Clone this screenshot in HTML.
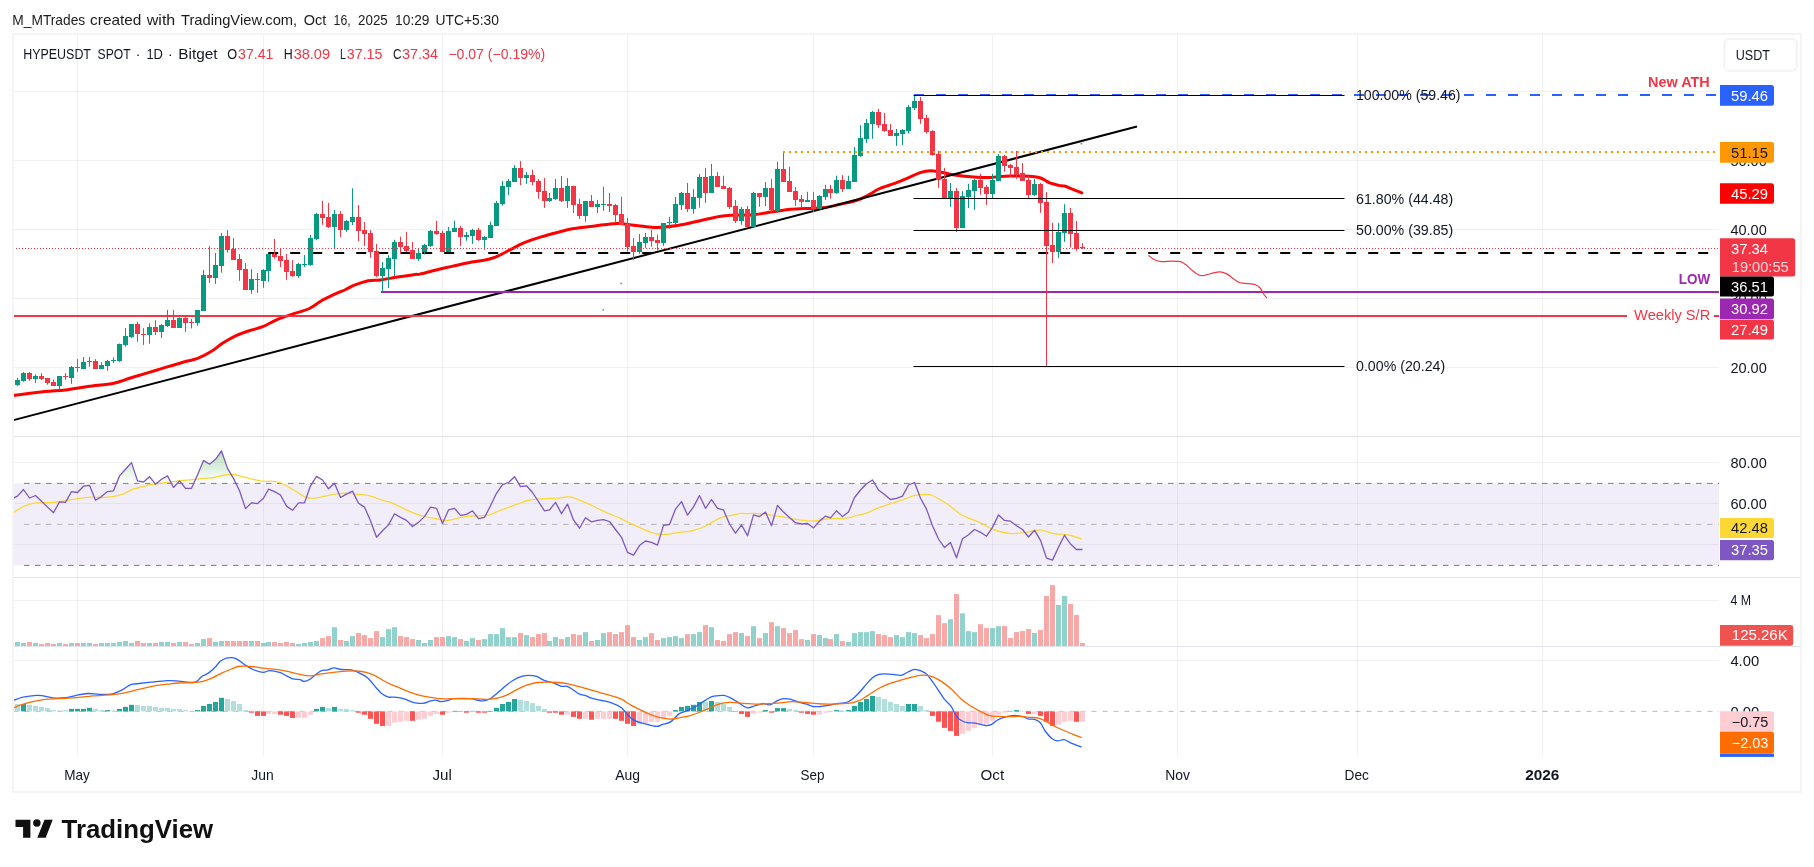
<!DOCTYPE html>
<html><head><meta charset="utf-8"><title>HYPEUSDT chart</title>
<style>html,body{margin:0;padding:0;background:#fff;}body{width:1814px;height:867px;overflow:hidden;position:relative;font-family:"Liberation Sans", sans-serif;}</style>
</head><body>
<svg width="1814" height="867" viewBox="0 0 1814 867" style="position:absolute;left:0;top:0;font-family:'Liberation Sans',sans-serif">
<defs>
<linearGradient id="gfill" x1="0" y1="421" x2="0" y2="483.4" gradientUnits="userSpaceOnUse"><stop offset="0" stop-color="#4caf50" stop-opacity="0.75"/><stop offset="1" stop-color="#4caf50" stop-opacity="0"/></linearGradient>
<clipPath id="cp_price"><rect x="13.5" y="34" width="1705.5" height="402"/></clipPath>
<clipPath id="cp_rsi70"><rect x="13.5" y="437" width="1705.5" height="46.39999999999998"/></clipPath>
<clipPath id="cp_all"><rect x="13.5" y="34" width="1705.5" height="723"/></clipPath>
</defs>
<rect width="1814" height="867" fill="#fff"/>
<g style="filter:opacity(1)">
<line x1="77.5" y1="34" x2="77.5" y2="756.5" stroke="#2a2e39" stroke-opacity="0.065" stroke-width="1"/>
<line x1="263.5" y1="34" x2="263.5" y2="756.5" stroke="#2a2e39" stroke-opacity="0.065" stroke-width="1"/>
<line x1="442.5" y1="34" x2="442.5" y2="756.5" stroke="#2a2e39" stroke-opacity="0.065" stroke-width="1"/>
<line x1="627.5" y1="34" x2="627.5" y2="756.5" stroke="#2a2e39" stroke-opacity="0.065" stroke-width="1"/>
<line x1="813.5" y1="34" x2="813.5" y2="756.5" stroke="#2a2e39" stroke-opacity="0.065" stroke-width="1"/>
<line x1="992.5" y1="34" x2="992.5" y2="756.5" stroke="#2a2e39" stroke-opacity="0.065" stroke-width="1"/>
<line x1="1177.5" y1="34" x2="1177.5" y2="756.5" stroke="#2a2e39" stroke-opacity="0.065" stroke-width="1"/>
<line x1="1357.5" y1="34" x2="1357.5" y2="756.5" stroke="#2a2e39" stroke-opacity="0.065" stroke-width="1"/>
<line x1="1542.5" y1="34" x2="1542.5" y2="756.5" stroke="#2a2e39" stroke-opacity="0.065" stroke-width="1"/>
<line x1="13.5" y1="91.5" x2="1719" y2="91.5" stroke="#2a2e39" stroke-opacity="0.065" stroke-width="1"/>
<line x1="13.5" y1="160.5" x2="1719" y2="160.5" stroke="#2a2e39" stroke-opacity="0.065" stroke-width="1"/>
<line x1="13.5" y1="229.5" x2="1719" y2="229.5" stroke="#2a2e39" stroke-opacity="0.065" stroke-width="1"/>
<line x1="13.5" y1="298.5" x2="1719" y2="298.5" stroke="#2a2e39" stroke-opacity="0.065" stroke-width="1"/>
<line x1="13.5" y1="367.5" x2="1719" y2="367.5" stroke="#2a2e39" stroke-opacity="0.065" stroke-width="1"/>
<line x1="13.5" y1="462.5" x2="1719" y2="462.5" stroke="#2a2e39" stroke-opacity="0.065" stroke-width="1"/>
<line x1="13.5" y1="503.5" x2="1719" y2="503.5" stroke="#2a2e39" stroke-opacity="0.065" stroke-width="1"/>
<line x1="13.5" y1="544.5" x2="1719" y2="544.5" stroke="#2a2e39" stroke-opacity="0.065" stroke-width="1"/>
<line x1="13.5" y1="600.5" x2="1719" y2="600.5" stroke="#2a2e39" stroke-opacity="0.065" stroke-width="1"/>
<line x1="13.5" y1="660.5" x2="1719" y2="660.5" stroke="#2a2e39" stroke-opacity="0.065" stroke-width="1"/>
<rect x="13.5" y="483.4" width="1705.5" height="82.0" fill="#7e57c2" fill-opacity="0.1"/>
<line x1="24" y1="483.4" x2="1719" y2="483.4" stroke="#787b86" stroke-width="1" stroke-dasharray="5.5,5.5"/>
<line x1="24" y1="565.4" x2="1719" y2="565.4" stroke="#787b86" stroke-width="1" stroke-dasharray="5.5,5.5"/>
<line x1="24" y1="524.4" x2="1719" y2="524.4" stroke="#787b86" stroke-opacity="0.5" stroke-width="1" stroke-dasharray="5.5,5.5"/>
<path d="M11.5,499.1 L17.5,496.1 L23.5,489.5 L29.5,498.0 L35.5,495.5 L41.5,501.3 L47.5,507.1 L53.5,512.7 L59.5,501.9 L65.5,502.4 L71.5,491.6 L77.5,492.5 L83.5,486.2 L89.5,485.3 L95.5,500.3 L101.5,496.6 L107.5,491.6 L113.5,490.8 L119.5,475.9 L125.5,469.2 L131.5,462.6 L137.5,480.9 L143.5,482.0 L149.5,476.7 L155.5,484.2 L161.5,479.2 L167.5,475.9 L173.5,487.5 L179.5,480.9 L185.5,488.3 L191.5,488.3 L197.5,475.0 L203.5,460.4 L209.5,464.2 L215.5,459.3 L221.5,451.0 L227.5,468.4 L233.5,478.4 L239.5,490.8 L245.5,508.6 L251.5,502.8 L257.5,503.6 L263.5,498.3 L268.5,489.2 L274.5,491.6 L280.5,495.0 L286.5,506.1 L292.5,510.3 L298.5,502.9 L304.5,502.9 L310.5,485.8 L316.5,476.4 L322.5,480.0 L328.5,488.8 L334.5,483.3 L340.5,497.5 L346.5,494.1 L352.5,491.1 L358.5,503.3 L364.5,507.1 L370.5,520.7 L376.5,537.3 L382.5,530.7 L388.5,524.9 L394.5,513.7 L400.5,517.4 L406.5,520.4 L412.5,526.5 L418.5,522.4 L424.5,516.6 L430.5,507.1 L436.5,508.3 L442.5,523.5 L448.5,509.9 L454.5,508.3 L460.5,515.4 L466.5,514.4 L472.5,510.8 L478.5,518.6 L484.5,517.4 L490.5,505.8 L496.5,493.3 L502.5,484.7 L508.5,482.5 L514.5,476.7 L520.5,486.7 L526.5,485.8 L532.5,492.5 L538.5,501.6 L544.5,510.8 L549.5,509.9 L555.5,502.4 L561.5,513.6 L567.5,504.1 L573.5,519.9 L579.5,528.2 L585.5,517.7 L591.5,521.9 L597.5,520.4 L603.5,519.6 L609.5,521.5 L615.5,529.5 L621.5,537.3 L627.5,552.3 L633.5,555.1 L639.5,545.6 L645.5,541.0 L651.5,542.3 L657.5,545.1 L663.5,525.4 L669.5,524.5 L675.5,509.1 L681.5,501.6 L687.5,515.2 L693.5,506.9 L699.5,495.5 L705.5,508.3 L711.5,499.5 L717.5,508.3 L723.5,509.9 L729.5,524.0 L735.5,533.2 L741.5,524.9 L747.5,535.7 L753.5,514.9 L759.5,516.6 L765.5,512.1 L771.5,525.7 L777.5,505.4 L783.5,512.1 L789.5,517.4 L795.5,522.7 L801.5,524.0 L807.5,523.5 L813.5,527.9 L819.5,521.2 L825.5,516.1 L830.5,517.9 L836.5,510.8 L842.5,516.6 L848.5,512.1 L854.5,497.5 L860.5,490.0 L866.5,483.7 L872.5,480.0 L878.5,490.0 L884.5,494.5 L890.5,499.5 L896.5,498.3 L902.5,496.1 L908.5,485.0 L914.5,482.5 L920.5,498.3 L926.5,509.1 L932.5,525.7 L938.5,539.0 L944.5,547.6 L950.5,542.6 L956.5,557.8 L962.5,538.7 L968.5,534.8 L974.5,529.5 L980.5,532.3 L986.5,536.2 L992.5,527.4 L998.5,514.9 L1004.5,520.4 L1010.5,521.2 L1016.5,525.7 L1022.5,529.5 L1028.5,537.0 L1034.5,530.2 L1040.5,540.3 L1046.5,558.1 L1052.5,560.1 L1058.5,547.3 L1064.5,535.2 L1070.5,544.0 L1076.5,549.5 L1082.5,549.5 L1082.5,483.4 L11.5,483.4 Z" fill="url(#gfill)" clip-path="url(#cp_rsi70)"/>
<g clip-path="url(#cp_all)">
<path d="M13.3,512.7 C15.0,511.7 19.7,508.2 23.3,506.6 C26.9,505.0 29.9,503.6 34.9,502.9 C39.9,502.2 48.2,502.8 53.2,502.4 C58.2,502.0 60.9,501.4 64.8,500.8 C68.7,500.2 72.2,499.4 76.4,498.8 C80.6,498.2 85.3,497.3 89.7,497.1 C94.1,496.9 99.1,497.6 103.0,497.5 C106.9,497.4 109.7,497.2 113.0,496.6 C116.3,496.0 119.7,495.3 123.0,494.1 C126.3,492.9 129.6,490.4 132.9,489.2 C136.2,488.0 139.9,487.5 142.9,486.7 C145.9,485.9 147.9,485.1 151.2,484.5 C154.5,483.9 159.2,483.5 162.8,483.0 C166.4,482.5 169.5,482.1 172.8,481.7 C176.1,481.3 179.5,480.8 182.8,480.5 C186.1,480.2 189.4,480.1 192.7,479.7 C196.0,479.3 199.1,478.8 202.7,478.4 C206.3,478.0 210.7,478.1 214.3,477.5 C217.9,476.9 221.0,475.5 224.3,475.0 C227.6,474.5 231.2,474.2 234.3,474.5 C237.4,474.8 239.8,476.0 242.6,476.7 C245.4,477.4 247.6,478.1 250.9,478.9 C254.2,479.6 258.9,480.8 262.5,481.2 C266.1,481.6 269.4,481.0 272.5,481.3 C275.6,481.6 277.5,481.7 280.8,483.0 C284.1,484.3 289.4,487.5 292.4,489.2 C295.4,490.9 296.6,491.9 299.0,493.3 C301.4,494.7 303.7,496.8 306.6,497.5 C309.5,498.2 313.3,498.1 316.6,497.8 C319.9,497.5 323.3,496.5 326.6,495.8 C329.9,495.1 332.9,494.2 336.5,493.8 C340.1,493.4 344.9,493.2 348.2,493.3 C351.5,493.4 352.9,493.7 356.5,494.1 C360.1,494.5 365.4,494.7 369.8,495.8 C374.2,496.9 379.2,499.2 383.1,500.5 C387.0,501.8 389.1,501.7 393.0,503.3 C396.9,504.9 402.4,508.1 406.3,509.9 C410.2,511.7 413.0,512.9 416.3,514.1 C419.6,515.3 422.9,516.1 426.2,516.9 C429.5,517.6 433.1,518.0 436.2,518.6 C439.2,519.2 441.7,520.2 444.5,520.4 C447.3,520.6 450.3,520.0 452.8,519.6 C455.3,519.2 456.7,518.3 459.5,517.7 C462.3,517.1 466.1,516.4 469.4,516.1 C472.7,515.8 476.3,515.8 479.4,515.7 C482.4,515.6 484.9,516.0 487.7,515.4 C490.5,514.8 492.9,513.3 496.0,512.1 C499.1,510.9 502.4,509.6 506.0,508.3 C509.6,507.0 514.0,505.4 517.6,504.1 C521.2,502.8 524.3,501.3 527.6,500.5 C530.9,499.7 533.9,499.4 537.5,499.1 C541.1,498.8 545.3,498.7 549.2,498.5 C553.1,498.3 557.6,498.1 560.8,497.8 C564.0,497.5 566.1,496.8 568.3,496.8 C570.5,496.8 571.8,497.1 574.1,497.8 C576.5,498.6 579.9,500.2 582.4,501.3 C584.9,502.4 585.5,502.5 589.0,504.1 C592.5,505.7 598.1,508.8 603.3,511.1 C608.4,513.5 615.5,516.2 619.9,518.2 C624.3,520.2 626.6,521.6 629.9,523.2 C633.2,524.8 636.5,526.3 639.8,527.7 C643.1,529.1 647.0,530.8 649.8,531.8 C652.6,532.8 653.3,533.6 656.4,534.0 C659.5,534.4 664.2,534.6 668.1,534.3 C672.0,534.0 675.8,532.8 679.7,532.3 C683.6,531.8 687.1,532.0 691.3,531.0 C695.4,530.0 700.5,528.4 704.6,526.5 C708.8,524.6 713.2,521.5 716.2,519.9 C719.2,518.3 720.4,517.9 722.9,517.1 C725.4,516.4 728.3,516.0 731.2,515.4 C734.1,514.8 737.8,513.7 740.3,513.4 C742.8,513.1 743.9,513.7 746.1,513.7 C748.3,513.7 750.6,513.3 753.6,513.4 C756.6,513.5 761.2,513.8 764.4,514.1 C767.6,514.4 769.4,514.9 772.7,515.4 C776.0,515.9 780.8,516.5 784.4,517.1 C788.0,517.7 791.0,518.6 794.3,519.1 C797.6,519.6 801.2,520.0 804.3,520.4 C807.3,520.8 809.8,521.3 812.6,521.2 C815.4,521.1 817.9,520.3 820.9,519.9 C823.9,519.5 826.5,518.9 830.9,518.6 C835.3,518.3 843.4,518.4 847.5,517.9 C851.6,517.4 853.9,516.2 855.8,515.7 C857.7,515.2 857.0,515.7 859.1,515.1 C861.2,514.5 865.1,513.6 868.3,512.4 C871.5,511.2 874.1,509.4 878.3,507.8 C882.4,506.2 888.5,504.5 893.2,502.9 C897.9,501.3 902.9,499.6 906.5,498.3 C910.1,497.0 911.5,496.0 914.8,495.3 C918.1,494.6 923.6,494.2 926.4,494.1 C929.2,494.1 929.2,494.1 931.4,495.0 C933.6,495.9 936.7,497.7 939.7,499.5 C942.8,501.3 946.4,503.4 949.7,505.8 C953.0,508.2 956.7,511.7 959.7,513.7 C962.8,515.7 964.7,516.5 968.0,517.9 C971.3,519.3 975.7,520.6 979.6,522.4 C983.5,524.2 987.9,527.2 991.2,528.7 C994.5,530.2 996.5,530.7 999.5,531.5 C1002.5,532.3 1006.5,533.2 1009.5,533.5 C1012.5,533.8 1015.0,533.4 1017.8,533.2 C1020.6,533.0 1023.3,532.7 1026.1,532.3 C1028.9,531.9 1032.1,531.1 1034.4,530.7 C1036.8,530.3 1038.0,529.7 1040.2,529.9 C1042.4,530.1 1045.1,531.1 1047.7,531.8 C1050.3,532.5 1053.2,533.6 1056.0,534.0 C1058.8,534.4 1061.5,534.0 1064.3,534.3 C1067.1,534.6 1069.7,535.2 1072.6,536.0 C1075.5,536.8 1080.3,538.5 1081.8,539.0" fill="none" stroke="#fdd835" stroke-width="1.3"/>
<path d="M11.5,499.1 L17.5,496.1 L23.5,489.5 L29.5,498.0 L35.5,495.5 L41.5,501.3 L47.5,507.1 L53.5,512.7 L59.5,501.9 L65.5,502.4 L71.5,491.6 L77.5,492.5 L83.5,486.2 L89.5,485.3 L95.5,500.3 L101.5,496.6 L107.5,491.6 L113.5,490.8 L119.5,475.9 L125.5,469.2 L131.5,462.6 L137.5,480.9 L143.5,482.0 L149.5,476.7 L155.5,484.2 L161.5,479.2 L167.5,475.9 L173.5,487.5 L179.5,480.9 L185.5,488.3 L191.5,488.3 L197.5,475.0 L203.5,460.4 L209.5,464.2 L215.5,459.3 L221.5,451.0 L227.5,468.4 L233.5,478.4 L239.5,490.8 L245.5,508.6 L251.5,502.8 L257.5,503.6 L263.5,498.3 L268.5,489.2 L274.5,491.6 L280.5,495.0 L286.5,506.1 L292.5,510.3 L298.5,502.9 L304.5,502.9 L310.5,485.8 L316.5,476.4 L322.5,480.0 L328.5,488.8 L334.5,483.3 L340.5,497.5 L346.5,494.1 L352.5,491.1 L358.5,503.3 L364.5,507.1 L370.5,520.7 L376.5,537.3 L382.5,530.7 L388.5,524.9 L394.5,513.7 L400.5,517.4 L406.5,520.4 L412.5,526.5 L418.5,522.4 L424.5,516.6 L430.5,507.1 L436.5,508.3 L442.5,523.5 L448.5,509.9 L454.5,508.3 L460.5,515.4 L466.5,514.4 L472.5,510.8 L478.5,518.6 L484.5,517.4 L490.5,505.8 L496.5,493.3 L502.5,484.7 L508.5,482.5 L514.5,476.7 L520.5,486.7 L526.5,485.8 L532.5,492.5 L538.5,501.6 L544.5,510.8 L549.5,509.9 L555.5,502.4 L561.5,513.6 L567.5,504.1 L573.5,519.9 L579.5,528.2 L585.5,517.7 L591.5,521.9 L597.5,520.4 L603.5,519.6 L609.5,521.5 L615.5,529.5 L621.5,537.3 L627.5,552.3 L633.5,555.1 L639.5,545.6 L645.5,541.0 L651.5,542.3 L657.5,545.1 L663.5,525.4 L669.5,524.5 L675.5,509.1 L681.5,501.6 L687.5,515.2 L693.5,506.9 L699.5,495.5 L705.5,508.3 L711.5,499.5 L717.5,508.3 L723.5,509.9 L729.5,524.0 L735.5,533.2 L741.5,524.9 L747.5,535.7 L753.5,514.9 L759.5,516.6 L765.5,512.1 L771.5,525.7 L777.5,505.4 L783.5,512.1 L789.5,517.4 L795.5,522.7 L801.5,524.0 L807.5,523.5 L813.5,527.9 L819.5,521.2 L825.5,516.1 L830.5,517.9 L836.5,510.8 L842.5,516.6 L848.5,512.1 L854.5,497.5 L860.5,490.0 L866.5,483.7 L872.5,480.0 L878.5,490.0 L884.5,494.5 L890.5,499.5 L896.5,498.3 L902.5,496.1 L908.5,485.0 L914.5,482.5 L920.5,498.3 L926.5,509.1 L932.5,525.7 L938.5,539.0 L944.5,547.6 L950.5,542.6 L956.5,557.8 L962.5,538.7 L968.5,534.8 L974.5,529.5 L980.5,532.3 L986.5,536.2 L992.5,527.4 L998.5,514.9 L1004.5,520.4 L1010.5,521.2 L1016.5,525.7 L1022.5,529.5 L1028.5,537.0 L1034.5,530.2 L1040.5,540.3 L1046.5,558.1 L1052.5,560.1 L1058.5,547.3 L1064.5,535.2 L1070.5,544.0 L1076.5,549.5 L1082.5,549.5" fill="none" stroke="#7e57c2" stroke-width="1.3" stroke-linejoin="round"/>
</g>
<g clip-path="url(#cp_all)">
<rect x="9" y="643.0" width="5" height="3.0" fill="#ef5350" fill-opacity="0.5"/>
<rect x="15" y="642.0" width="5" height="4.0" fill="#26a69a" fill-opacity="0.5"/>
<rect x="21" y="643.0" width="5" height="3.0" fill="#26a69a" fill-opacity="0.5"/>
<rect x="27" y="642.0" width="5" height="4.0" fill="#ef5350" fill-opacity="0.5"/>
<rect x="33" y="643.0" width="5" height="3.0" fill="#26a69a" fill-opacity="0.5"/>
<rect x="39" y="644.0" width="5" height="2.0" fill="#ef5350" fill-opacity="0.5"/>
<rect x="45" y="643.0" width="5" height="3.0" fill="#ef5350" fill-opacity="0.5"/>
<rect x="51" y="644.0" width="5" height="2.0" fill="#ef5350" fill-opacity="0.5"/>
<rect x="57" y="643.0" width="5" height="3.0" fill="#26a69a" fill-opacity="0.5"/>
<rect x="63" y="644.0" width="5" height="2.0" fill="#ef5350" fill-opacity="0.5"/>
<rect x="69" y="643.0" width="5" height="3.0" fill="#26a69a" fill-opacity="0.5"/>
<rect x="75" y="643.0" width="5" height="3.0" fill="#ef5350" fill-opacity="0.5"/>
<rect x="81" y="643.0" width="5" height="3.0" fill="#26a69a" fill-opacity="0.5"/>
<rect x="87" y="643.0" width="5" height="3.0" fill="#26a69a" fill-opacity="0.5"/>
<rect x="93" y="644.0" width="5" height="2.0" fill="#ef5350" fill-opacity="0.5"/>
<rect x="99" y="643.0" width="5" height="3.0" fill="#26a69a" fill-opacity="0.5"/>
<rect x="105" y="643.0" width="5" height="3.0" fill="#26a69a" fill-opacity="0.5"/>
<rect x="111" y="643.0" width="5" height="3.0" fill="#26a69a" fill-opacity="0.5"/>
<rect x="117" y="642.0" width="5" height="4.0" fill="#26a69a" fill-opacity="0.5"/>
<rect x="123" y="641.0" width="5" height="5.0" fill="#26a69a" fill-opacity="0.5"/>
<rect x="129" y="643.0" width="5" height="3.0" fill="#26a69a" fill-opacity="0.5"/>
<rect x="135" y="641.0" width="5" height="5.0" fill="#ef5350" fill-opacity="0.5"/>
<rect x="141" y="643.0" width="5" height="3.0" fill="#ef5350" fill-opacity="0.5"/>
<rect x="147" y="643.0" width="5" height="3.0" fill="#26a69a" fill-opacity="0.5"/>
<rect x="153" y="643.0" width="5" height="3.0" fill="#ef5350" fill-opacity="0.5"/>
<rect x="159" y="642.0" width="5" height="4.0" fill="#26a69a" fill-opacity="0.5"/>
<rect x="165" y="642.0" width="5" height="4.0" fill="#26a69a" fill-opacity="0.5"/>
<rect x="171" y="643.0" width="5" height="3.0" fill="#ef5350" fill-opacity="0.5"/>
<rect x="177" y="642.0" width="5" height="4.0" fill="#26a69a" fill-opacity="0.5"/>
<rect x="183" y="642.0" width="5" height="4.0" fill="#ef5350" fill-opacity="0.5"/>
<rect x="189" y="644.0" width="5" height="2.0" fill="#ef5350" fill-opacity="0.5"/>
<rect x="195" y="643.0" width="5" height="3.0" fill="#26a69a" fill-opacity="0.5"/>
<rect x="201" y="639.1" width="5" height="6.9" fill="#26a69a" fill-opacity="0.5"/>
<rect x="207" y="638.1" width="5" height="7.9" fill="#ef5350" fill-opacity="0.5"/>
<rect x="213" y="642.0" width="5" height="4.0" fill="#26a69a" fill-opacity="0.5"/>
<rect x="219" y="641.0" width="5" height="5.0" fill="#26a69a" fill-opacity="0.5"/>
<rect x="225" y="641.0" width="5" height="5.0" fill="#ef5350" fill-opacity="0.5"/>
<rect x="231" y="641.0" width="5" height="5.0" fill="#ef5350" fill-opacity="0.5"/>
<rect x="237" y="641.0" width="5" height="5.0" fill="#ef5350" fill-opacity="0.5"/>
<rect x="243" y="641.0" width="5" height="5.0" fill="#ef5350" fill-opacity="0.5"/>
<rect x="249" y="641.0" width="5" height="5.0" fill="#26a69a" fill-opacity="0.5"/>
<rect x="255" y="641.0" width="5" height="5.0" fill="#ef5350" fill-opacity="0.5"/>
<rect x="261" y="643.0" width="5" height="3.0" fill="#26a69a" fill-opacity="0.5"/>
<rect x="266" y="642.0" width="5" height="4.0" fill="#26a69a" fill-opacity="0.5"/>
<rect x="272" y="642.0" width="5" height="4.0" fill="#ef5350" fill-opacity="0.5"/>
<rect x="278" y="643.0" width="5" height="3.0" fill="#ef5350" fill-opacity="0.5"/>
<rect x="284" y="642.0" width="5" height="4.0" fill="#ef5350" fill-opacity="0.5"/>
<rect x="290" y="643.0" width="5" height="3.0" fill="#ef5350" fill-opacity="0.5"/>
<rect x="296" y="644.0" width="5" height="2.0" fill="#26a69a" fill-opacity="0.5"/>
<rect x="302" y="643.0" width="5" height="3.0" fill="#26a69a" fill-opacity="0.5"/>
<rect x="308" y="642.0" width="5" height="4.0" fill="#26a69a" fill-opacity="0.5"/>
<rect x="314" y="641.0" width="5" height="5.0" fill="#26a69a" fill-opacity="0.5"/>
<rect x="320" y="638.1" width="5" height="7.9" fill="#ef5350" fill-opacity="0.5"/>
<rect x="326" y="636.1" width="5" height="9.9" fill="#ef5350" fill-opacity="0.5"/>
<rect x="332" y="627.2" width="5" height="18.8" fill="#26a69a" fill-opacity="0.5"/>
<rect x="338" y="640.0" width="5" height="6.0" fill="#ef5350" fill-opacity="0.5"/>
<rect x="344" y="641.0" width="5" height="5.0" fill="#26a69a" fill-opacity="0.5"/>
<rect x="350" y="636.1" width="5" height="9.9" fill="#26a69a" fill-opacity="0.5"/>
<rect x="356" y="633.1" width="5" height="12.9" fill="#ef5350" fill-opacity="0.5"/>
<rect x="362" y="635.1" width="5" height="10.9" fill="#ef5350" fill-opacity="0.5"/>
<rect x="368" y="638.1" width="5" height="7.9" fill="#ef5350" fill-opacity="0.5"/>
<rect x="374" y="631.1" width="5" height="14.9" fill="#ef5350" fill-opacity="0.5"/>
<rect x="380" y="637.1" width="5" height="8.9" fill="#26a69a" fill-opacity="0.5"/>
<rect x="386" y="629.1" width="5" height="16.9" fill="#26a69a" fill-opacity="0.5"/>
<rect x="392" y="627.2" width="5" height="18.8" fill="#26a69a" fill-opacity="0.5"/>
<rect x="398" y="636.1" width="5" height="9.9" fill="#ef5350" fill-opacity="0.5"/>
<rect x="404" y="637.1" width="5" height="8.9" fill="#ef5350" fill-opacity="0.5"/>
<rect x="410" y="639.1" width="5" height="6.9" fill="#ef5350" fill-opacity="0.5"/>
<rect x="416" y="640.0" width="5" height="6.0" fill="#26a69a" fill-opacity="0.5"/>
<rect x="422" y="643.0" width="5" height="3.0" fill="#26a69a" fill-opacity="0.5"/>
<rect x="428" y="640.0" width="5" height="6.0" fill="#26a69a" fill-opacity="0.5"/>
<rect x="434" y="637.1" width="5" height="8.9" fill="#ef5350" fill-opacity="0.5"/>
<rect x="440" y="637.1" width="5" height="8.9" fill="#ef5350" fill-opacity="0.5"/>
<rect x="446" y="636.1" width="5" height="9.9" fill="#26a69a" fill-opacity="0.5"/>
<rect x="452" y="637.1" width="5" height="8.9" fill="#26a69a" fill-opacity="0.5"/>
<rect x="458" y="639.1" width="5" height="6.9" fill="#ef5350" fill-opacity="0.5"/>
<rect x="464" y="641.0" width="5" height="5.0" fill="#26a69a" fill-opacity="0.5"/>
<rect x="470" y="638.1" width="5" height="7.9" fill="#26a69a" fill-opacity="0.5"/>
<rect x="476" y="640.0" width="5" height="6.0" fill="#ef5350" fill-opacity="0.5"/>
<rect x="482" y="639.1" width="5" height="6.9" fill="#26a69a" fill-opacity="0.5"/>
<rect x="488" y="634.1" width="5" height="11.9" fill="#26a69a" fill-opacity="0.5"/>
<rect x="494" y="634.1" width="5" height="11.9" fill="#26a69a" fill-opacity="0.5"/>
<rect x="500" y="628.1" width="5" height="17.9" fill="#26a69a" fill-opacity="0.5"/>
<rect x="506" y="637.1" width="5" height="8.9" fill="#26a69a" fill-opacity="0.5"/>
<rect x="512" y="637.1" width="5" height="8.9" fill="#26a69a" fill-opacity="0.5"/>
<rect x="518" y="633.1" width="5" height="12.9" fill="#ef5350" fill-opacity="0.5"/>
<rect x="524" y="635.1" width="5" height="10.9" fill="#26a69a" fill-opacity="0.5"/>
<rect x="530" y="637.1" width="5" height="8.9" fill="#ef5350" fill-opacity="0.5"/>
<rect x="536" y="634.1" width="5" height="11.9" fill="#ef5350" fill-opacity="0.5"/>
<rect x="542" y="633.1" width="5" height="12.9" fill="#ef5350" fill-opacity="0.5"/>
<rect x="547" y="641.0" width="5" height="5.0" fill="#26a69a" fill-opacity="0.5"/>
<rect x="553" y="637.1" width="5" height="8.9" fill="#26a69a" fill-opacity="0.5"/>
<rect x="559" y="639.1" width="5" height="6.9" fill="#ef5350" fill-opacity="0.5"/>
<rect x="565" y="637.1" width="5" height="8.9" fill="#26a69a" fill-opacity="0.5"/>
<rect x="571" y="634.1" width="5" height="11.9" fill="#ef5350" fill-opacity="0.5"/>
<rect x="577" y="635.1" width="5" height="10.9" fill="#ef5350" fill-opacity="0.5"/>
<rect x="583" y="632.1" width="5" height="13.9" fill="#26a69a" fill-opacity="0.5"/>
<rect x="589" y="641.0" width="5" height="5.0" fill="#ef5350" fill-opacity="0.5"/>
<rect x="595" y="640.0" width="5" height="6.0" fill="#26a69a" fill-opacity="0.5"/>
<rect x="601" y="633.1" width="5" height="12.9" fill="#26a69a" fill-opacity="0.5"/>
<rect x="607" y="632.1" width="5" height="13.9" fill="#ef5350" fill-opacity="0.5"/>
<rect x="613" y="634.1" width="5" height="11.9" fill="#ef5350" fill-opacity="0.5"/>
<rect x="619" y="632.1" width="5" height="13.9" fill="#ef5350" fill-opacity="0.5"/>
<rect x="625" y="625.2" width="5" height="20.8" fill="#ef5350" fill-opacity="0.5"/>
<rect x="631" y="637.1" width="5" height="8.9" fill="#ef5350" fill-opacity="0.5"/>
<rect x="637" y="640.0" width="5" height="6.0" fill="#26a69a" fill-opacity="0.5"/>
<rect x="643" y="637.1" width="5" height="8.9" fill="#26a69a" fill-opacity="0.5"/>
<rect x="649" y="633.1" width="5" height="12.9" fill="#ef5350" fill-opacity="0.5"/>
<rect x="655" y="640.0" width="5" height="6.0" fill="#ef5350" fill-opacity="0.5"/>
<rect x="661" y="638.1" width="5" height="7.9" fill="#26a69a" fill-opacity="0.5"/>
<rect x="667" y="637.1" width="5" height="8.9" fill="#26a69a" fill-opacity="0.5"/>
<rect x="673" y="636.1" width="5" height="9.9" fill="#26a69a" fill-opacity="0.5"/>
<rect x="679" y="638.1" width="5" height="7.9" fill="#26a69a" fill-opacity="0.5"/>
<rect x="685" y="634.1" width="5" height="11.9" fill="#ef5350" fill-opacity="0.5"/>
<rect x="691" y="634.1" width="5" height="11.9" fill="#26a69a" fill-opacity="0.5"/>
<rect x="697" y="632.1" width="5" height="13.9" fill="#26a69a" fill-opacity="0.5"/>
<rect x="703" y="625.2" width="5" height="20.8" fill="#ef5350" fill-opacity="0.5"/>
<rect x="709" y="627.2" width="5" height="18.8" fill="#26a69a" fill-opacity="0.5"/>
<rect x="715" y="640.0" width="5" height="6.0" fill="#ef5350" fill-opacity="0.5"/>
<rect x="721" y="641.0" width="5" height="5.0" fill="#ef5350" fill-opacity="0.5"/>
<rect x="727" y="634.1" width="5" height="11.9" fill="#ef5350" fill-opacity="0.5"/>
<rect x="733" y="632.1" width="5" height="13.9" fill="#ef5350" fill-opacity="0.5"/>
<rect x="739" y="633.1" width="5" height="12.9" fill="#26a69a" fill-opacity="0.5"/>
<rect x="745" y="636.1" width="5" height="9.9" fill="#ef5350" fill-opacity="0.5"/>
<rect x="751" y="626.2" width="5" height="19.8" fill="#26a69a" fill-opacity="0.5"/>
<rect x="757" y="638.1" width="5" height="7.9" fill="#ef5350" fill-opacity="0.5"/>
<rect x="763" y="633.1" width="5" height="12.9" fill="#26a69a" fill-opacity="0.5"/>
<rect x="769" y="622.2" width="5" height="23.8" fill="#ef5350" fill-opacity="0.5"/>
<rect x="775" y="626.2" width="5" height="19.8" fill="#26a69a" fill-opacity="0.5"/>
<rect x="781" y="628.1" width="5" height="17.9" fill="#ef5350" fill-opacity="0.5"/>
<rect x="787" y="633.1" width="5" height="12.9" fill="#ef5350" fill-opacity="0.5"/>
<rect x="793" y="630.1" width="5" height="15.9" fill="#ef5350" fill-opacity="0.5"/>
<rect x="799" y="639.1" width="5" height="6.9" fill="#ef5350" fill-opacity="0.5"/>
<rect x="805" y="640.0" width="5" height="6.0" fill="#26a69a" fill-opacity="0.5"/>
<rect x="811" y="634.1" width="5" height="11.9" fill="#ef5350" fill-opacity="0.5"/>
<rect x="817" y="635.1" width="5" height="10.9" fill="#26a69a" fill-opacity="0.5"/>
<rect x="823" y="638.1" width="5" height="7.9" fill="#26a69a" fill-opacity="0.5"/>
<rect x="828" y="639.1" width="5" height="6.9" fill="#ef5350" fill-opacity="0.5"/>
<rect x="834" y="634.1" width="5" height="11.9" fill="#26a69a" fill-opacity="0.5"/>
<rect x="840" y="641.0" width="5" height="5.0" fill="#ef5350" fill-opacity="0.5"/>
<rect x="846" y="642.0" width="5" height="4.0" fill="#26a69a" fill-opacity="0.5"/>
<rect x="852" y="633.1" width="5" height="12.9" fill="#26a69a" fill-opacity="0.5"/>
<rect x="858" y="632.1" width="5" height="13.9" fill="#26a69a" fill-opacity="0.5"/>
<rect x="864" y="632.1" width="5" height="13.9" fill="#26a69a" fill-opacity="0.5"/>
<rect x="870" y="631.1" width="5" height="14.9" fill="#26a69a" fill-opacity="0.5"/>
<rect x="876" y="634.1" width="5" height="11.9" fill="#ef5350" fill-opacity="0.5"/>
<rect x="882" y="635.1" width="5" height="10.9" fill="#ef5350" fill-opacity="0.5"/>
<rect x="888" y="637.1" width="5" height="8.9" fill="#ef5350" fill-opacity="0.5"/>
<rect x="894" y="635.1" width="5" height="10.9" fill="#26a69a" fill-opacity="0.5"/>
<rect x="900" y="637.1" width="5" height="8.9" fill="#26a69a" fill-opacity="0.5"/>
<rect x="906" y="632.1" width="5" height="13.9" fill="#26a69a" fill-opacity="0.5"/>
<rect x="912" y="633.1" width="5" height="12.9" fill="#26a69a" fill-opacity="0.5"/>
<rect x="918" y="635.1" width="5" height="10.9" fill="#ef5350" fill-opacity="0.5"/>
<rect x="924" y="638.1" width="5" height="7.9" fill="#ef5350" fill-opacity="0.5"/>
<rect x="930" y="634.1" width="5" height="11.9" fill="#ef5350" fill-opacity="0.5"/>
<rect x="936" y="615.2" width="5" height="30.8" fill="#ef5350" fill-opacity="0.5"/>
<rect x="942" y="623.2" width="5" height="22.8" fill="#ef5350" fill-opacity="0.5"/>
<rect x="948" y="619.2" width="5" height="26.8" fill="#26a69a" fill-opacity="0.5"/>
<rect x="954" y="594.0" width="5" height="52.0" fill="#ef5350" fill-opacity="0.5"/>
<rect x="960" y="613.3" width="5" height="32.7" fill="#26a69a" fill-opacity="0.5"/>
<rect x="966" y="631.1" width="5" height="14.9" fill="#26a69a" fill-opacity="0.5"/>
<rect x="972" y="632.1" width="5" height="13.9" fill="#26a69a" fill-opacity="0.5"/>
<rect x="978" y="624.2" width="5" height="21.8" fill="#ef5350" fill-opacity="0.5"/>
<rect x="984" y="628.1" width="5" height="17.9" fill="#ef5350" fill-opacity="0.5"/>
<rect x="990" y="628.1" width="5" height="17.9" fill="#26a69a" fill-opacity="0.5"/>
<rect x="996" y="626.2" width="5" height="19.8" fill="#26a69a" fill-opacity="0.5"/>
<rect x="1002" y="626.0" width="5" height="20.0" fill="#ef5350" fill-opacity="0.5"/>
<rect x="1008" y="638.0" width="5" height="8.0" fill="#ef5350" fill-opacity="0.5"/>
<rect x="1014" y="632.0" width="5" height="14.0" fill="#ef5350" fill-opacity="0.5"/>
<rect x="1020" y="631.0" width="5" height="15.0" fill="#ef5350" fill-opacity="0.5"/>
<rect x="1026" y="629.0" width="5" height="17.0" fill="#ef5350" fill-opacity="0.5"/>
<rect x="1032" y="633.0" width="5" height="13.0" fill="#26a69a" fill-opacity="0.5"/>
<rect x="1038" y="630.0" width="5" height="16.0" fill="#ef5350" fill-opacity="0.5"/>
<rect x="1044" y="596.0" width="5" height="50.0" fill="#ef5350" fill-opacity="0.5"/>
<rect x="1050" y="585.0" width="5" height="61.0" fill="#ef5350" fill-opacity="0.5"/>
<rect x="1056" y="605.0" width="5" height="41.0" fill="#26a69a" fill-opacity="0.5"/>
<rect x="1062" y="596.0" width="5" height="50.0" fill="#26a69a" fill-opacity="0.5"/>
<rect x="1068" y="604.0" width="5" height="42.0" fill="#ef5350" fill-opacity="0.5"/>
<rect x="1074" y="615.0" width="5" height="31.0" fill="#ef5350" fill-opacity="0.5"/>
<rect x="1080" y="643.0" width="5" height="3.0" fill="#ef5350" fill-opacity="0.5"/>
</g>
<line x1="13.5" y1="711.4" x2="1719" y2="711.4" stroke="#787b86" stroke-opacity="0.5" stroke-width="1" stroke-dasharray="5,6"/>
<g clip-path="url(#cp_all)">
<rect x="9" y="704.0" width="5" height="7.4" fill="#b2dfdb"/>
<rect x="15" y="704.0" width="5" height="7.4" fill="#b2dfdb"/>
<rect x="21" y="704.0" width="5" height="7.4" fill="#26a69a"/>
<rect x="27" y="704.8" width="5" height="6.6" fill="#b2dfdb"/>
<rect x="33" y="705.9" width="5" height="5.5" fill="#b2dfdb"/>
<rect x="39" y="706.9" width="5" height="4.5" fill="#b2dfdb"/>
<rect x="45" y="708.1" width="5" height="3.3" fill="#b2dfdb"/>
<rect x="51" y="710.1" width="5" height="1.3" fill="#b2dfdb"/>
<rect x="57" y="710.6" width="5" height="0.8" fill="#b2dfdb"/>
<rect x="63" y="710.1" width="5" height="1.3" fill="#b2dfdb"/>
<rect x="69" y="708.9" width="5" height="2.5" fill="#26a69a"/>
<rect x="75" y="708.9" width="5" height="2.5" fill="#26a69a"/>
<rect x="81" y="708.9" width="5" height="2.5" fill="#26a69a"/>
<rect x="87" y="707.8" width="5" height="3.6" fill="#26a69a"/>
<rect x="93" y="708.9" width="5" height="2.5" fill="#b2dfdb"/>
<rect x="99" y="710.1" width="5" height="1.3" fill="#b2dfdb"/>
<rect x="105" y="710.1" width="5" height="1.3" fill="#26a69a"/>
<rect x="111" y="710.6" width="5" height="0.8" fill="#b2dfdb"/>
<rect x="117" y="708.9" width="5" height="2.5" fill="#26a69a"/>
<rect x="123" y="706.9" width="5" height="4.5" fill="#26a69a"/>
<rect x="129" y="704.8" width="5" height="6.6" fill="#26a69a"/>
<rect x="135" y="704.8" width="5" height="6.6" fill="#b2dfdb"/>
<rect x="141" y="705.9" width="5" height="5.5" fill="#b2dfdb"/>
<rect x="147" y="705.9" width="5" height="5.5" fill="#b2dfdb"/>
<rect x="153" y="706.9" width="5" height="4.5" fill="#b2dfdb"/>
<rect x="159" y="707.8" width="5" height="3.6" fill="#b2dfdb"/>
<rect x="165" y="707.8" width="5" height="3.6" fill="#b2dfdb"/>
<rect x="171" y="708.9" width="5" height="2.5" fill="#b2dfdb"/>
<rect x="177" y="708.9" width="5" height="2.5" fill="#b2dfdb"/>
<rect x="183" y="710.1" width="5" height="1.3" fill="#b2dfdb"/>
<rect x="189" y="711.1" width="5" height="0.3" fill="#b2dfdb"/>
<rect x="195" y="710.1" width="5" height="1.3" fill="#26a69a"/>
<rect x="201" y="705.9" width="5" height="5.5" fill="#26a69a"/>
<rect x="207" y="704.0" width="5" height="7.4" fill="#26a69a"/>
<rect x="213" y="702.0" width="5" height="9.4" fill="#26a69a"/>
<rect x="219" y="697.8" width="5" height="13.6" fill="#26a69a"/>
<rect x="225" y="699.0" width="5" height="12.4" fill="#b2dfdb"/>
<rect x="231" y="701.0" width="5" height="10.4" fill="#b2dfdb"/>
<rect x="237" y="704.0" width="5" height="7.4" fill="#b2dfdb"/>
<rect x="243" y="710.1" width="5" height="1.3" fill="#b2dfdb"/>
<rect x="249" y="711.4" width="5" height="1.3" fill="#ff5252"/>
<rect x="255" y="711.4" width="5" height="4.5" fill="#ff5252"/>
<rect x="261" y="711.4" width="5" height="4.5" fill="#ff5252"/>
<rect x="266" y="711.4" width="5" height="2.5" fill="#ffcdd2"/>
<rect x="272" y="711.4" width="5" height="2.5" fill="#ffcdd2"/>
<rect x="278" y="711.4" width="5" height="3.3" fill="#ff5252"/>
<rect x="284" y="711.4" width="5" height="4.5" fill="#ff5252"/>
<rect x="290" y="711.4" width="5" height="6.6" fill="#ff5252"/>
<rect x="296" y="711.4" width="5" height="6.6" fill="#ffcdd2"/>
<rect x="302" y="711.4" width="5" height="6.3" fill="#ffcdd2"/>
<rect x="308" y="711.4" width="5" height="3.3" fill="#ffcdd2"/>
<rect x="314" y="708.9" width="5" height="2.5" fill="#26a69a"/>
<rect x="320" y="706.9" width="5" height="4.5" fill="#26a69a"/>
<rect x="326" y="708.1" width="5" height="3.3" fill="#b2dfdb"/>
<rect x="332" y="706.9" width="5" height="4.5" fill="#26a69a"/>
<rect x="338" y="708.9" width="5" height="2.5" fill="#b2dfdb"/>
<rect x="344" y="708.9" width="5" height="2.5" fill="#b2dfdb"/>
<rect x="350" y="710.1" width="5" height="1.3" fill="#b2dfdb"/>
<rect x="356" y="711.4" width="5" height="1.3" fill="#ff5252"/>
<rect x="362" y="711.4" width="5" height="3.3" fill="#ff5252"/>
<rect x="368" y="711.4" width="5" height="7.4" fill="#ff5252"/>
<rect x="374" y="711.4" width="5" height="12.4" fill="#ff5252"/>
<rect x="380" y="711.4" width="5" height="14.6" fill="#ff5252"/>
<rect x="386" y="711.4" width="5" height="14.6" fill="#ffcdd2"/>
<rect x="392" y="711.4" width="5" height="11.2" fill="#ffcdd2"/>
<rect x="398" y="711.4" width="5" height="10.4" fill="#ffcdd2"/>
<rect x="404" y="711.4" width="5" height="9.4" fill="#ffcdd2"/>
<rect x="410" y="711.4" width="5" height="9.4" fill="#ff5252"/>
<rect x="416" y="711.4" width="5" height="8.3" fill="#ffcdd2"/>
<rect x="422" y="711.4" width="5" height="7.4" fill="#ffcdd2"/>
<rect x="428" y="711.4" width="5" height="4.5" fill="#ffcdd2"/>
<rect x="434" y="711.4" width="5" height="2.5" fill="#ffcdd2"/>
<rect x="440" y="711.4" width="5" height="3.3" fill="#ff5252"/>
<rect x="446" y="711.4" width="5" height="1.3" fill="#ffcdd2"/>
<rect x="452" y="710.9" width="5" height="0.5" fill="#26a69a"/>
<rect x="458" y="711.4" width="5" height="0.5" fill="#ff5252"/>
<rect x="464" y="711.4" width="5" height="1.3" fill="#ff5252"/>
<rect x="470" y="710.9" width="5" height="0.5" fill="#26a69a"/>
<rect x="476" y="711.4" width="5" height="1.3" fill="#ff5252"/>
<rect x="482" y="711.4" width="5" height="1.3" fill="#ff5252"/>
<rect x="488" y="710.9" width="5" height="0.5" fill="#26a69a"/>
<rect x="494" y="707.8" width="5" height="3.6" fill="#26a69a"/>
<rect x="500" y="704.0" width="5" height="7.4" fill="#26a69a"/>
<rect x="506" y="702.0" width="5" height="9.4" fill="#26a69a"/>
<rect x="512" y="699.0" width="5" height="12.4" fill="#26a69a"/>
<rect x="518" y="699.8" width="5" height="11.6" fill="#b2dfdb"/>
<rect x="524" y="701.0" width="5" height="10.4" fill="#b2dfdb"/>
<rect x="530" y="703.1" width="5" height="8.3" fill="#b2dfdb"/>
<rect x="536" y="705.9" width="5" height="5.5" fill="#b2dfdb"/>
<rect x="542" y="708.9" width="5" height="2.5" fill="#b2dfdb"/>
<rect x="547" y="711.4" width="5" height="1.3" fill="#ff5252"/>
<rect x="553" y="711.4" width="5" height="1.3" fill="#ff5252"/>
<rect x="559" y="711.4" width="5" height="3.3" fill="#ff5252"/>
<rect x="565" y="711.4" width="5" height="3.3" fill="#ffcdd2"/>
<rect x="571" y="711.4" width="5" height="5.5" fill="#ff5252"/>
<rect x="577" y="711.4" width="5" height="7.4" fill="#ff5252"/>
<rect x="583" y="711.4" width="5" height="7.4" fill="#ffcdd2"/>
<rect x="589" y="711.4" width="5" height="8.3" fill="#ff5252"/>
<rect x="595" y="711.4" width="5" height="7.4" fill="#ffcdd2"/>
<rect x="601" y="711.4" width="5" height="7.4" fill="#ffcdd2"/>
<rect x="607" y="711.4" width="5" height="7.4" fill="#ffcdd2"/>
<rect x="613" y="711.4" width="5" height="7.4" fill="#ff5252"/>
<rect x="619" y="711.4" width="5" height="9.4" fill="#ff5252"/>
<rect x="625" y="711.4" width="5" height="12.4" fill="#ff5252"/>
<rect x="631" y="711.4" width="5" height="14.6" fill="#ff5252"/>
<rect x="637" y="711.4" width="5" height="13.2" fill="#ffcdd2"/>
<rect x="643" y="711.4" width="5" height="11.6" fill="#ffcdd2"/>
<rect x="649" y="711.4" width="5" height="10.7" fill="#ffcdd2"/>
<rect x="655" y="711.4" width="5" height="10.4" fill="#ffcdd2"/>
<rect x="661" y="711.4" width="5" height="7.4" fill="#ffcdd2"/>
<rect x="667" y="711.4" width="5" height="4.5" fill="#ffcdd2"/>
<rect x="673" y="710.1" width="5" height="1.3" fill="#26a69a"/>
<rect x="679" y="706.9" width="5" height="4.5" fill="#26a69a"/>
<rect x="685" y="705.9" width="5" height="5.5" fill="#26a69a"/>
<rect x="691" y="704.8" width="5" height="6.6" fill="#26a69a"/>
<rect x="697" y="702.0" width="5" height="9.4" fill="#26a69a"/>
<rect x="703" y="702.0" width="5" height="9.4" fill="#b2dfdb"/>
<rect x="709" y="701.0" width="5" height="10.4" fill="#26a69a"/>
<rect x="715" y="702.0" width="5" height="9.4" fill="#b2dfdb"/>
<rect x="721" y="704.0" width="5" height="7.4" fill="#b2dfdb"/>
<rect x="727" y="706.9" width="5" height="4.5" fill="#b2dfdb"/>
<rect x="733" y="711.4" width="5" height="0.5" fill="#ff5252"/>
<rect x="739" y="711.4" width="5" height="2.5" fill="#ff5252"/>
<rect x="745" y="711.4" width="5" height="5.5" fill="#ff5252"/>
<rect x="751" y="711.4" width="5" height="2.5" fill="#ffcdd2"/>
<rect x="757" y="711.4" width="5" height="1.3" fill="#ffcdd2"/>
<rect x="763" y="710.1" width="5" height="1.3" fill="#26a69a"/>
<rect x="769" y="711.4" width="5" height="1.3" fill="#ff5252"/>
<rect x="775" y="708.1" width="5" height="3.3" fill="#26a69a"/>
<rect x="781" y="708.1" width="5" height="3.3" fill="#26a69a"/>
<rect x="787" y="708.9" width="5" height="2.5" fill="#b2dfdb"/>
<rect x="793" y="710.1" width="5" height="1.3" fill="#b2dfdb"/>
<rect x="799" y="711.4" width="5" height="1.3" fill="#ff5252"/>
<rect x="805" y="711.4" width="5" height="2.5" fill="#ff5252"/>
<rect x="811" y="711.4" width="5" height="3.3" fill="#ff5252"/>
<rect x="817" y="711.4" width="5" height="3.3" fill="#ffcdd2"/>
<rect x="823" y="711.4" width="5" height="1.3" fill="#ffcdd2"/>
<rect x="828" y="711.4" width="5" height="0.8" fill="#ffcdd2"/>
<rect x="834" y="710.1" width="5" height="1.3" fill="#26a69a"/>
<rect x="840" y="710.6" width="5" height="0.8" fill="#b2dfdb"/>
<rect x="846" y="710.1" width="5" height="1.3" fill="#26a69a"/>
<rect x="852" y="705.9" width="5" height="5.5" fill="#26a69a"/>
<rect x="858" y="702.0" width="5" height="9.4" fill="#26a69a"/>
<rect x="864" y="699.0" width="5" height="12.4" fill="#26a69a"/>
<rect x="870" y="696.0" width="5" height="15.4" fill="#26a69a"/>
<rect x="876" y="696.8" width="5" height="14.6" fill="#b2dfdb"/>
<rect x="882" y="699.0" width="5" height="12.4" fill="#b2dfdb"/>
<rect x="888" y="702.0" width="5" height="9.4" fill="#b2dfdb"/>
<rect x="894" y="704.0" width="5" height="7.4" fill="#b2dfdb"/>
<rect x="900" y="705.9" width="5" height="5.5" fill="#b2dfdb"/>
<rect x="906" y="704.0" width="5" height="7.4" fill="#26a69a"/>
<rect x="912" y="704.0" width="5" height="7.4" fill="#26a69a"/>
<rect x="918" y="705.9" width="5" height="5.5" fill="#b2dfdb"/>
<rect x="924" y="710.1" width="5" height="1.3" fill="#b2dfdb"/>
<rect x="930" y="711.4" width="5" height="4.5" fill="#ff5252"/>
<rect x="936" y="711.4" width="5" height="10.4" fill="#ff5252"/>
<rect x="942" y="711.4" width="5" height="16.5" fill="#ff5252"/>
<rect x="948" y="711.4" width="5" height="19.5" fill="#ff5252"/>
<rect x="954" y="711.4" width="5" height="24.5" fill="#ff5252"/>
<rect x="960" y="711.4" width="5" height="22.3" fill="#ffcdd2"/>
<rect x="966" y="711.4" width="5" height="19.5" fill="#ffcdd2"/>
<rect x="972" y="711.4" width="5" height="16.5" fill="#ffcdd2"/>
<rect x="978" y="711.4" width="5" height="13.2" fill="#ffcdd2"/>
<rect x="984" y="711.4" width="5" height="12.4" fill="#ffcdd2"/>
<rect x="990" y="711.4" width="5" height="9.4" fill="#ffcdd2"/>
<rect x="996" y="711.4" width="5" height="3.3" fill="#ffcdd2"/>
<rect x="1002" y="711.4" width="5" height="1.3" fill="#ffcdd2"/>
<rect x="1008" y="710.9" width="5" height="0.5" fill="#26a69a"/>
<rect x="1014" y="710.1" width="5" height="1.3" fill="#26a69a"/>
<rect x="1020" y="710.9" width="5" height="0.5" fill="#b2dfdb"/>
<rect x="1026" y="711.4" width="5" height="2.5" fill="#ff5252"/>
<rect x="1032" y="711.4" width="5" height="2.5" fill="#ffcdd2"/>
<rect x="1038" y="711.4" width="5" height="4.5" fill="#ff5252"/>
<rect x="1044" y="711.4" width="5" height="10.4" fill="#ff5252"/>
<rect x="1050" y="711.4" width="5" height="14.6" fill="#ff5252"/>
<rect x="1056" y="711.4" width="5" height="13.2" fill="#ffcdd2"/>
<rect x="1062" y="711.4" width="5" height="10.4" fill="#ffcdd2"/>
<rect x="1068" y="711.4" width="5" height="9.4" fill="#ffcdd2"/>
<rect x="1074" y="711.4" width="5" height="10.4" fill="#ff5252"/>
<rect x="1080" y="711.4" width="5" height="10.4" fill="#ffcdd2"/>
<path d="M13.3,700.4 C15.0,699.9 19.3,697.9 23.2,697.1 C27.1,696.3 33.2,695.6 36.5,695.4 C39.8,695.2 40.4,695.4 43.1,695.8 C45.9,696.2 49.1,697.6 53.0,697.9 C56.9,698.2 62.4,698.0 66.2,697.6 C70.0,697.2 72.5,696.1 76.1,695.4 C79.7,694.7 83.8,693.7 87.7,693.5 C91.6,693.3 95.2,694.2 99.3,694.3 C103.4,694.3 108.6,694.6 112.5,693.8 C116.4,693.0 119.5,691.2 122.5,689.7 C125.5,688.2 127.9,685.7 130.7,684.7 C133.4,683.7 135.7,683.9 139.0,683.5 C142.3,683.1 145.9,682.7 150.6,682.2 C155.3,681.7 162.4,680.8 167.1,680.6 C171.8,680.4 174.6,680.8 178.7,681.1 C182.8,681.4 188.9,682.5 191.9,682.5 C194.9,682.5 195.2,682.4 196.9,681.4 C198.6,680.4 199.9,677.8 201.8,676.4 C203.7,675.0 206.2,674.6 208.4,673.1 C210.6,671.6 213.2,669.2 215.1,667.3 C217.0,665.4 218.1,663.0 220.0,661.5 C221.9,660.0 224.5,658.8 226.6,658.2 C228.7,657.6 230.5,657.4 232.4,657.7 C234.3,658.0 236.1,658.7 238.2,659.9 C240.3,661.1 242.3,663.2 244.8,664.8 C247.3,666.4 250.1,668.2 253.1,669.5 C256.1,670.8 260.2,672.1 263.0,672.3 C265.8,672.5 266.8,670.6 269.6,670.6 C272.4,670.6 276.8,671.5 279.6,672.3 C282.4,673.1 284.0,674.5 286.2,675.6 C288.4,676.7 290.5,678.2 292.8,678.9 C295.1,679.6 298.1,679.3 300.0,679.7 C301.9,680.1 302.5,681.5 304.1,681.4 C305.8,681.3 307.8,680.5 309.9,679.2 C312.0,678.0 314.6,675.3 316.5,673.9 C318.4,672.5 319.6,671.3 321.5,670.6 C323.4,669.9 326.0,670.3 328.1,669.8 C330.2,669.3 331.7,667.8 333.9,667.8 C336.1,667.8 338.4,669.2 341.3,669.5 C344.2,669.8 348.5,669.3 351.3,669.8 C354.1,670.3 355.7,671.3 357.9,672.3 C360.1,673.3 362.6,674.4 364.5,675.6 C366.4,676.8 367.6,677.7 369.5,679.7 C371.4,681.7 373.9,685.3 376.1,687.7 C378.3,690.1 380.6,692.7 382.7,694.3 C384.8,695.9 386.6,696.6 388.5,697.1 C390.4,697.6 392.0,696.9 394.3,697.1 C396.6,697.3 399.5,697.6 402.5,698.4 C405.5,699.2 410.0,701.3 412.5,702.1 C415.0,702.9 415.5,703.0 417.4,703.2 C419.3,703.4 421.8,703.6 424.0,703.2 C426.2,702.8 428.7,701.4 430.6,700.9 C432.5,700.4 433.8,700.0 435.6,700.1 C437.4,700.2 439.2,701.7 441.4,701.7 C443.6,701.7 446.7,700.6 448.8,700.1 C450.9,699.6 450.2,698.9 453.8,698.7 C457.4,698.5 466.5,698.5 470.3,698.7 C474.1,698.9 474.7,699.7 476.9,700.1 C479.1,700.5 481.4,701.1 483.6,700.9 C485.8,700.7 488.0,699.9 490.2,698.7 C492.4,697.5 494.3,695.6 496.8,693.5 C499.3,691.4 502.4,688.5 505.1,686.3 C507.9,684.1 510.5,681.9 513.3,680.2 C516.0,678.6 519.0,677.2 521.6,676.4 C524.2,675.6 526.5,675.3 529.0,675.3 C531.5,675.3 533.9,675.5 536.5,676.4 C539.1,677.3 542.0,679.5 544.7,680.6 C547.5,681.7 550.2,681.8 553.0,682.7 C555.8,683.7 558.9,685.7 561.3,686.3 C563.6,686.9 565.2,685.7 567.1,686.3 C569.0,686.9 570.8,688.4 572.9,689.7 C575.0,691.0 577.3,693.1 579.5,694.1 C581.7,695.1 584.4,695.2 586.1,695.8 C587.9,696.4 587.7,696.9 590.0,697.6 C592.3,698.3 596.3,699.2 599.9,700.1 C603.5,701.0 607.9,701.6 611.5,702.9 C615.1,704.2 618.6,705.7 621.4,707.8 C624.1,709.9 625.8,713.1 628.0,715.3 C630.2,717.4 631.9,719.3 634.7,720.7 C637.5,722.1 641.0,722.7 644.6,723.6 C648.2,724.5 653.1,726.3 656.1,726.4 C659.1,726.5 660.3,725.2 662.8,724.4 C665.3,723.6 668.2,723.4 671.0,721.6 C673.8,719.8 676.8,715.4 679.3,713.6 C681.8,711.9 683.1,712.3 685.9,711.1 C688.6,709.9 693.0,708.0 695.8,706.5 C698.6,705.0 700.0,703.7 702.5,702.1 C705.0,700.5 708.2,698.2 710.7,697.1 C713.2,696.0 715.1,696.1 717.3,695.8 C719.5,695.5 721.8,695.0 724.0,695.4 C726.2,695.8 728.1,696.6 730.6,697.9 C733.1,699.1 736.0,701.2 738.8,702.9 C741.5,704.5 744.3,707.3 747.1,707.8 C749.9,708.3 752.6,706.4 755.4,705.7 C758.1,705.0 761.1,703.8 763.6,703.7 C766.1,703.6 768.1,705.4 770.3,704.9 C772.5,704.4 774.7,701.9 776.9,700.9 C779.1,699.9 781.3,699.0 783.5,698.7 C785.7,698.4 787.6,698.6 790.1,699.2 C792.6,699.8 795.6,701.3 798.4,702.1 C801.1,702.9 804.1,703.5 806.6,704.2 C809.1,704.9 811.1,706.1 813.3,706.5 C815.5,706.9 817.4,706.7 819.9,706.5 C822.4,706.3 825.1,705.9 828.1,705.4 C831.1,704.9 835.1,703.9 838.1,703.4 C841.1,702.9 843.8,703.3 846.3,702.5 C848.8,701.7 850.6,700.5 852.9,698.7 C855.2,696.9 857.7,694.3 860.0,691.8 C862.3,689.3 864.4,686.3 866.6,683.9 C868.8,681.5 871.1,678.8 873.2,677.2 C875.3,675.6 877.1,675.0 879.0,674.4 C880.9,673.8 882.4,673.9 884.8,673.9 C887.1,673.9 890.4,674.2 893.1,674.4 C895.9,674.6 898.8,675.7 901.3,675.3 C903.8,674.9 905.8,673.0 908.0,672.0 C910.2,671.0 912.4,669.5 914.6,669.3 C916.8,669.1 919.1,670.1 921.2,671.0 C923.3,671.9 925.1,672.5 927.0,674.4 C928.9,676.3 930.7,679.3 932.8,682.2 C934.9,685.1 937.5,689.0 939.4,691.8 C941.3,694.6 942.4,696.7 944.3,699.1 C946.2,701.5 949.1,703.5 951.0,706.2 C952.9,708.9 954.2,713.0 955.9,715.3 C957.5,717.6 959.0,719.0 960.9,720.2 C962.8,721.4 965.0,722.2 967.5,722.7 C970.0,723.2 972.8,722.7 975.8,723.2 C978.8,723.7 983.1,725.3 985.7,725.5 C988.3,725.7 989.6,725.3 991.5,724.4 C993.4,723.5 995.2,721.4 997.3,720.2 C999.4,719.0 1001.7,718.1 1003.9,717.4 C1006.1,716.7 1008.3,716.1 1010.5,715.8 C1012.7,715.5 1014.9,715.4 1017.1,715.6 C1019.3,715.8 1021.8,716.3 1023.7,716.9 C1025.6,717.5 1026.9,718.7 1028.7,719.1 C1030.5,719.5 1032.6,718.8 1034.5,719.4 C1036.4,720.0 1038.5,720.8 1040.3,722.7 C1042.1,724.6 1043.3,728.4 1045.2,731.0 C1047.1,733.6 1049.7,736.8 1051.8,738.4 C1053.9,740.0 1055.5,740.7 1057.6,740.9 C1059.7,741.1 1061.8,739.2 1064.2,739.6 C1066.6,740.0 1068.8,742.2 1071.7,743.4 C1074.6,744.6 1079.9,746.4 1081.6,747.0" fill="none" stroke="#2962ff" stroke-width="1.3"/>
<path d="M13.3,707.8 C15.5,707.0 21.5,704.6 26.5,703.2 C31.5,701.8 37.6,700.4 43.1,699.6 C48.6,698.9 54.1,699.0 59.6,698.7 C65.1,698.4 70.6,698.1 76.1,697.6 C81.6,697.1 86.6,696.4 92.7,695.9 C98.8,695.4 107.0,695.1 112.5,694.6 C118.0,694.1 121.4,693.5 125.8,692.6 C130.2,691.7 134.6,690.3 139.0,689.3 C143.4,688.2 147.5,687.1 152.2,686.3 C156.9,685.4 162.7,684.8 167.1,684.2 C171.5,683.7 174.6,683.2 178.7,683.0 C182.8,682.8 188.1,682.9 191.9,682.7 C195.8,682.5 198.5,682.5 201.8,681.7 C205.1,680.9 208.5,679.5 211.8,678.1 C215.1,676.7 218.4,674.6 221.7,673.1 C225.0,671.6 228.8,670.1 231.6,669.0 C234.3,667.9 235.7,667.0 238.2,666.5 C240.7,666.0 243.8,666.2 246.5,666.2 C249.2,666.2 251.9,666.5 254.7,666.8 C257.4,667.1 258.9,667.7 263.0,668.2 C267.1,668.7 274.9,669.1 279.6,669.8 C284.3,670.5 287.7,671.5 291.1,672.3 C294.5,673.1 296.9,673.8 300.0,674.4 C303.1,675.0 306.3,676.0 309.9,675.9 C313.5,675.8 317.6,674.5 321.5,673.9 C325.4,673.3 329.0,672.8 333.1,672.3 C337.2,671.8 342.5,671.3 346.3,671.1 C350.1,670.9 352.9,670.8 356.2,671.0 C359.5,671.2 363.1,671.6 366.1,672.3 C369.1,673.0 371.6,674.0 374.4,675.3 C377.2,676.6 379.9,678.7 382.7,680.2 C385.5,681.7 388.2,683.1 391.0,684.4 C393.8,685.6 396.2,686.5 399.2,687.7 C402.2,688.9 405.8,690.6 409.1,691.8 C412.4,693.0 415.8,694.2 419.1,695.1 C422.4,696.0 425.4,696.5 429.0,697.1 C432.6,697.7 436.8,698.4 440.6,698.7 C444.5,699.0 447.2,698.7 452.1,698.7 C457.1,698.7 465.3,698.6 470.3,698.7 C475.3,698.8 478.6,699.1 481.9,699.2 C485.2,699.3 487.4,699.4 490.2,699.2 C492.9,699.0 495.4,698.7 498.4,697.9 C501.4,697.1 505.1,695.8 508.4,694.3 C511.7,692.8 515.0,690.4 518.3,688.8 C521.6,687.2 524.9,685.8 528.2,684.7 C531.5,683.7 534.8,682.9 538.1,682.5 C541.4,682.1 544.8,682.2 548.1,682.2 C551.4,682.2 554.7,682.2 558.0,682.5 C561.3,682.8 564.0,683.1 567.9,683.9 C571.8,684.7 577.4,686.2 581.1,687.2 C584.8,688.2 586.9,688.8 590.0,689.7 C593.1,690.6 596.3,691.6 599.9,692.6 C603.5,693.6 607.9,694.7 611.5,695.8 C615.1,696.9 618.1,697.6 621.4,699.2 C624.7,700.8 628.0,703.5 631.3,705.4 C634.6,707.2 638.0,708.7 641.3,710.3 C644.6,711.9 647.9,713.5 651.2,714.8 C654.5,716.0 658.1,717.1 661.1,717.8 C664.1,718.5 666.4,719.1 669.4,719.1 C672.4,719.1 676.0,718.3 679.3,717.8 C682.6,717.2 685.9,716.7 689.2,715.8 C692.5,714.9 695.8,713.8 699.1,712.5 C702.4,711.2 705.8,709.7 709.1,708.3 C712.4,706.9 715.7,705.2 719.0,704.2 C722.3,703.2 725.6,702.6 728.9,702.4 C732.2,702.2 735.5,702.7 738.8,702.9 C742.1,703.1 745.5,703.5 748.8,703.7 C752.1,703.9 755.4,704.2 758.7,704.2 C762.0,704.2 765.0,703.9 768.6,703.7 C772.2,703.5 776.3,703.2 780.2,702.9 C784.1,702.6 787.7,701.8 791.8,701.7 C795.9,701.6 800.9,702.2 805.0,702.5 C809.1,702.8 812.8,703.4 816.6,703.7 C820.5,704.0 824.0,704.2 828.1,704.2 C832.2,704.2 837.5,703.9 841.4,703.7 C845.3,703.5 848.5,703.4 851.3,702.9 C854.0,702.4 856.4,701.3 857.9,700.9 C859.4,700.5 858.3,701.4 860.0,700.4 C861.7,699.4 865.3,697.0 868.3,695.1 C871.3,693.2 874.9,690.6 878.2,688.8 C881.5,687.0 884.8,685.5 888.1,684.2 C891.4,682.9 894.7,682.1 898.0,681.1 C901.3,680.1 904.7,679.0 908.0,678.1 C911.3,677.2 914.9,676.1 917.9,675.6 C920.9,675.1 923.6,675.1 926.1,675.3 C928.6,675.5 930.3,675.8 932.8,676.8 C935.3,677.8 938.0,679.1 941.0,681.1 C944.0,683.1 947.7,685.9 951.0,688.8 C954.3,691.7 957.9,696.0 960.9,698.7 C963.9,701.4 966.1,703.0 969.1,705.0 C972.1,707.0 975.8,709.1 979.1,710.8 C982.4,712.5 986.0,714.4 989.0,715.3 C992.0,716.2 994.0,716.2 997.3,716.4 C1000.6,716.6 1005.2,716.6 1008.8,716.6 C1012.4,716.6 1015.2,716.3 1018.8,716.4 C1022.4,716.5 1026.9,717.0 1030.3,717.3 C1033.7,717.6 1036.6,717.5 1039.4,718.3 C1042.2,719.1 1044.3,720.5 1046.9,721.9 C1049.5,723.3 1052.1,725.0 1055.1,726.5 C1058.1,728.0 1061.8,729.6 1065.1,731.0 C1068.4,732.4 1072.2,734.0 1075.0,735.1 C1077.8,736.2 1080.5,737.2 1081.6,737.6" fill="none" stroke="#ff6d00" stroke-width="1.3"/>
</g>
<g clip-path="url(#cp_price)">
<path d="M13.5,395.4 C18.7,394.8 36.0,392.5 44.6,391.6 C53.2,390.7 58.2,390.8 65.4,389.9 C72.6,389.0 79.8,387.5 87.9,386.4 C96.0,385.3 106.6,384.7 113.8,383.3 C121.0,381.9 123.9,380.0 131.1,377.8 C138.3,375.6 148.4,372.6 157.1,370.0 C165.8,367.4 176.4,364.1 183.0,362.2 C189.6,360.3 192.3,360.4 196.9,358.7 C201.5,357.0 206.4,354.4 210.7,351.8 C215.0,349.2 218.5,345.8 222.8,343.1 C227.1,340.4 232.1,337.5 236.6,335.4 C241.1,333.3 245.7,331.9 250.0,330.5 C254.3,329.1 258.3,328.5 262.7,326.7 C267.1,324.9 271.3,322.0 276.5,319.8 C281.7,317.6 288.3,315.6 293.8,313.7 C299.3,311.8 304.8,310.7 309.4,308.5 C314.0,306.3 317.5,303.0 321.5,300.7 C325.5,298.4 329.6,296.6 333.6,294.7 C337.6,292.8 342.2,291.1 345.7,289.5 C349.2,287.9 350.6,286.6 354.4,285.2 C358.1,283.8 363.9,281.7 368.2,280.8 C372.5,279.9 375.4,280.6 380.3,280.0 C385.2,279.4 391.8,277.9 397.6,277.0 C403.4,276.1 411.2,274.9 414.9,274.4 C418.6,273.9 416.3,274.9 420.0,274.1 C423.7,273.3 430.1,271.5 437.3,269.8 C444.5,268.1 455.5,265.3 463.3,263.7 C471.1,262.1 478.5,261.3 484.0,260.2 C489.5,259.1 491.8,258.5 496.1,256.8 C500.4,255.1 505.4,252.2 510.0,249.9 C514.6,247.6 518.6,245.1 523.8,242.9 C529.0,240.7 535.3,238.7 541.1,236.9 C546.9,235.1 553.2,233.5 558.4,232.2 C563.6,230.8 566.4,229.8 572.2,228.8 C578.0,227.8 586.6,227.0 593.0,226.2 C599.4,225.4 606.0,224.3 610.3,223.9 C614.6,223.5 616.1,223.5 619.0,223.6 C621.9,223.7 623.3,223.9 627.6,224.4 C631.9,224.9 641.2,226.1 644.9,226.5 C648.6,226.9 648.0,226.9 650.0,227.1 C652.0,227.3 654.0,227.6 656.9,227.6 C659.8,227.6 662.7,227.4 667.3,226.8 C671.9,226.2 678.8,225.3 684.6,224.2 C690.4,223.1 696.1,221.5 701.9,220.2 C707.7,218.9 714.3,217.2 719.2,216.4 C724.1,215.6 725.5,215.5 731.3,215.2 C737.1,214.9 747.2,215.2 753.8,214.7 C760.4,214.2 765.3,213.0 771.1,212.1 C776.9,211.2 782.6,210.1 788.4,209.5 C794.2,208.9 799.9,208.9 805.7,208.6 C811.5,208.3 817.2,208.5 823.0,207.8 C828.8,207.1 834.5,205.6 840.3,204.3 C846.1,203.0 852.6,201.7 857.6,200.0 C862.6,198.3 866.5,196.0 870.0,194.2 C873.5,192.4 874.4,190.9 878.7,189.0 C883.0,187.1 891.1,184.8 896.0,182.9 C900.9,181.0 904.1,179.5 908.1,177.8 C912.1,176.1 916.5,173.8 920.2,172.6 C924.0,171.4 926.9,170.8 930.6,170.8 C934.4,170.8 938.4,171.9 942.7,172.6 C947.0,173.3 951.3,174.5 956.5,175.2 C961.7,175.9 968.0,176.5 973.8,176.9 C979.6,177.3 986.6,177.5 991.1,177.4 C995.6,177.3 997.7,176.7 1000.9,176.5 C1004.1,176.3 1006.9,176.2 1010.4,176.1 C1013.9,176.0 1017.6,176.0 1021.6,176.1 C1025.6,176.2 1031.4,176.4 1034.6,176.7 C1037.8,177.0 1038.8,177.3 1040.7,178.0 C1042.6,178.7 1044.3,180.0 1045.8,180.8 C1047.3,181.6 1048.5,182.3 1049.7,182.8 C1050.9,183.3 1051.3,183.4 1052.8,183.8 C1054.3,184.2 1056.9,185.0 1058.8,185.4 C1060.7,185.8 1062.5,185.5 1064.4,186.0 C1066.4,186.5 1068.5,187.6 1070.5,188.4 C1072.5,189.2 1074.2,189.8 1076.1,190.6 C1078.0,191.3 1080.8,192.5 1081.7,192.9" fill="none" stroke="#ff0000" stroke-width="3" stroke-linecap="round"/>
<line x1="13.5" y1="420.1" x2="1137" y2="126.5" stroke="#000" stroke-width="2"/>
<line x1="13.5" y1="316" x2="1627" y2="316" stroke="#f23645" stroke-width="2"/>
<line x1="1714" y1="316" x2="1719" y2="316" stroke="#f23645" stroke-width="2"/>
<line x1="381" y1="292" x2="1719" y2="292" stroke="#9c27b0" stroke-width="2"/>
<line x1="268.2" y1="253" x2="1712" y2="253" stroke="#000" stroke-width="2" stroke-dasharray="10,12"/>
<rect x="11" y="380.9" width="1" height="4.2" fill="#f23645"/>
<rect x="9" y="381" width="5" height="4" fill="#f23645"/>
<rect x="17" y="377.8" width="1" height="8.1" fill="#089981"/>
<rect x="15" y="380" width="5" height="5" fill="#089981"/>
<rect x="23" y="372.0" width="1" height="9.7" fill="#089981"/>
<rect x="21" y="373" width="5" height="8" fill="#089981"/>
<rect x="29" y="372.0" width="1" height="8.8" fill="#f23645"/>
<rect x="27" y="373" width="5" height="6" fill="#f23645"/>
<rect x="35" y="374.3" width="1" height="8.7" fill="#089981"/>
<rect x="33" y="376" width="5" height="3" fill="#089981"/>
<rect x="41" y="373.1" width="1" height="6.9" fill="#f23645"/>
<rect x="39" y="376" width="5" height="3" fill="#f23645"/>
<rect x="47" y="378.1" width="1" height="6.6" fill="#f23645"/>
<rect x="45" y="378" width="5" height="5" fill="#f23645"/>
<rect x="53" y="379.5" width="1" height="6.4" fill="#f23645"/>
<rect x="51" y="382" width="5" height="4" fill="#f23645"/>
<rect x="59" y="376.0" width="1" height="13.0" fill="#089981"/>
<rect x="57" y="376" width="5" height="10" fill="#089981"/>
<rect x="65" y="373.1" width="1" height="6.9" fill="#f23645"/>
<rect x="63" y="376" width="5" height="1" fill="#f23645"/>
<rect x="71" y="366.0" width="1" height="17.8" fill="#089981"/>
<rect x="69" y="367" width="5" height="11" fill="#089981"/>
<rect x="77" y="359.1" width="1" height="13.0" fill="#f23645"/>
<rect x="75" y="367" width="5" height="1" fill="#f23645"/>
<rect x="83" y="357.0" width="1" height="12.1" fill="#089981"/>
<rect x="81" y="362" width="5" height="7" fill="#089981"/>
<rect x="89" y="357.0" width="1" height="9.9" fill="#089981"/>
<rect x="87" y="361" width="5" height="1" fill="#089981"/>
<rect x="95" y="359.2" width="1" height="9.5" fill="#f23645"/>
<rect x="93" y="361" width="5" height="8" fill="#f23645"/>
<rect x="101" y="362.2" width="1" height="6.6" fill="#089981"/>
<rect x="99" y="365" width="5" height="4" fill="#089981"/>
<rect x="107" y="359.9" width="1" height="10.9" fill="#089981"/>
<rect x="105" y="361" width="5" height="5" fill="#089981"/>
<rect x="113" y="357.3" width="1" height="5.7" fill="#089981"/>
<rect x="111" y="360" width="5" height="1" fill="#089981"/>
<rect x="119" y="343.5" width="1" height="18.3" fill="#089981"/>
<rect x="117" y="344" width="5" height="17" fill="#089981"/>
<rect x="125" y="328.1" width="1" height="18.5" fill="#089981"/>
<rect x="123" y="336" width="5" height="9" fill="#089981"/>
<rect x="131" y="324.1" width="1" height="13.8" fill="#089981"/>
<rect x="129" y="324" width="5" height="13" fill="#089981"/>
<rect x="137" y="321.9" width="1" height="19.9" fill="#f23645"/>
<rect x="135" y="324" width="5" height="10" fill="#f23645"/>
<rect x="143" y="328.1" width="1" height="16.8" fill="#f23645"/>
<rect x="141" y="334" width="5" height="1" fill="#f23645"/>
<rect x="149" y="323.3" width="1" height="20.4" fill="#089981"/>
<rect x="147" y="327" width="5" height="8" fill="#089981"/>
<rect x="155" y="320.1" width="1" height="14.9" fill="#f23645"/>
<rect x="153" y="327" width="5" height="5" fill="#f23645"/>
<rect x="161" y="324.1" width="1" height="13.8" fill="#089981"/>
<rect x="159" y="325" width="5" height="7" fill="#089981"/>
<rect x="167" y="309.9" width="1" height="17.1" fill="#089981"/>
<rect x="165" y="320" width="5" height="6" fill="#089981"/>
<rect x="173" y="309.9" width="1" height="18.0" fill="#f23645"/>
<rect x="171" y="320" width="5" height="8" fill="#f23645"/>
<rect x="179" y="317.2" width="1" height="10.7" fill="#089981"/>
<rect x="177" y="318" width="5" height="10" fill="#089981"/>
<rect x="185" y="316.3" width="1" height="15.6" fill="#f23645"/>
<rect x="183" y="318" width="5" height="5" fill="#f23645"/>
<rect x="191" y="318.9" width="1" height="9.5" fill="#f23645"/>
<rect x="189" y="322" width="5" height="1" fill="#f23645"/>
<rect x="197" y="309.9" width="1" height="15.9" fill="#089981"/>
<rect x="195" y="310" width="5" height="13" fill="#089981"/>
<rect x="203" y="269.9" width="1" height="40.8" fill="#089981"/>
<rect x="201" y="275" width="5" height="36" fill="#089981"/>
<rect x="209" y="245.9" width="1" height="37.0" fill="#f23645"/>
<rect x="207" y="275" width="5" height="3" fill="#f23645"/>
<rect x="215" y="253.1" width="1" height="30.8" fill="#089981"/>
<rect x="213" y="265" width="5" height="13" fill="#089981"/>
<rect x="221" y="232.9" width="1" height="39.8" fill="#089981"/>
<rect x="219" y="236" width="5" height="30" fill="#089981"/>
<rect x="227" y="230.1" width="1" height="22.5" fill="#f23645"/>
<rect x="225" y="236" width="5" height="14" fill="#f23645"/>
<rect x="233" y="238.1" width="1" height="21.6" fill="#f23645"/>
<rect x="231" y="249" width="5" height="11" fill="#f23645"/>
<rect x="239" y="254.0" width="1" height="26.8" fill="#f23645"/>
<rect x="237" y="259" width="5" height="11" fill="#f23645"/>
<rect x="245" y="263.0" width="1" height="27.0" fill="#f23645"/>
<rect x="243" y="269" width="5" height="21" fill="#f23645"/>
<rect x="251" y="269.1" width="1" height="24.7" fill="#089981"/>
<rect x="249" y="279" width="5" height="11" fill="#089981"/>
<rect x="257" y="273.0" width="1" height="19.9" fill="#f23645"/>
<rect x="255" y="279" width="5" height="1" fill="#f23645"/>
<rect x="263" y="269.1" width="1" height="18.7" fill="#089981"/>
<rect x="261" y="270" width="5" height="11" fill="#089981"/>
<rect x="268" y="254.0" width="1" height="27.7" fill="#089981"/>
<rect x="266" y="254" width="5" height="17" fill="#089981"/>
<rect x="274" y="239.0" width="1" height="19.7" fill="#f23645"/>
<rect x="272" y="254" width="5" height="3" fill="#f23645"/>
<rect x="280" y="248.0" width="1" height="19.0" fill="#f23645"/>
<rect x="278" y="256" width="5" height="5" fill="#f23645"/>
<rect x="286" y="254.0" width="1" height="26.0" fill="#f23645"/>
<rect x="284" y="260" width="5" height="12" fill="#f23645"/>
<rect x="292" y="260.1" width="1" height="16.8" fill="#f23645"/>
<rect x="290" y="271" width="5" height="5" fill="#f23645"/>
<rect x="298" y="263.0" width="1" height="14.9" fill="#089981"/>
<rect x="296" y="264" width="5" height="12" fill="#089981"/>
<rect x="304" y="255.1" width="1" height="11.9" fill="#089981"/>
<rect x="302" y="264" width="5" height="1" fill="#089981"/>
<rect x="310" y="235.0" width="1" height="30.8" fill="#089981"/>
<rect x="308" y="238" width="5" height="27" fill="#089981"/>
<rect x="316" y="212.8" width="1" height="27.3" fill="#089981"/>
<rect x="314" y="214" width="5" height="25" fill="#089981"/>
<rect x="322" y="200.9" width="1" height="24.0" fill="#f23645"/>
<rect x="320" y="214" width="5" height="4" fill="#f23645"/>
<rect x="328" y="203.0" width="1" height="25.1" fill="#f23645"/>
<rect x="326" y="217" width="5" height="10" fill="#f23645"/>
<rect x="334" y="209.9" width="1" height="38.1" fill="#089981"/>
<rect x="332" y="214" width="5" height="13" fill="#089981"/>
<rect x="340" y="211.1" width="1" height="26.0" fill="#f23645"/>
<rect x="338" y="214" width="5" height="16" fill="#f23645"/>
<rect x="346" y="219.9" width="1" height="11.9" fill="#089981"/>
<rect x="344" y="221" width="5" height="9" fill="#089981"/>
<rect x="352" y="188.3" width="1" height="36.7" fill="#089981"/>
<rect x="350" y="217" width="5" height="5" fill="#089981"/>
<rect x="358" y="205.1" width="1" height="36.0" fill="#f23645"/>
<rect x="356" y="217" width="5" height="14" fill="#f23645"/>
<rect x="364" y="222.0" width="1" height="23.9" fill="#f23645"/>
<rect x="362" y="230" width="5" height="4" fill="#f23645"/>
<rect x="370" y="230.1" width="1" height="27.7" fill="#f23645"/>
<rect x="368" y="233" width="5" height="19" fill="#f23645"/>
<rect x="376" y="244.0" width="1" height="33.0" fill="#f23645"/>
<rect x="374" y="251" width="5" height="25" fill="#f23645"/>
<rect x="382" y="262.0" width="1" height="30.1" fill="#089981"/>
<rect x="380" y="268" width="5" height="8" fill="#089981"/>
<rect x="388" y="255.1" width="1" height="33.0" fill="#089981"/>
<rect x="386" y="258" width="5" height="11" fill="#089981"/>
<rect x="394" y="239.8" width="1" height="36.2" fill="#089981"/>
<rect x="392" y="242" width="5" height="17" fill="#089981"/>
<rect x="400" y="236.7" width="1" height="17.3" fill="#f23645"/>
<rect x="398" y="242" width="5" height="5" fill="#f23645"/>
<rect x="406" y="231.9" width="1" height="20.1" fill="#f23645"/>
<rect x="404" y="246" width="5" height="5" fill="#f23645"/>
<rect x="412" y="241.9" width="1" height="17.0" fill="#f23645"/>
<rect x="410" y="250" width="5" height="9" fill="#f23645"/>
<rect x="418" y="248.8" width="1" height="12.1" fill="#089981"/>
<rect x="416" y="253" width="5" height="6" fill="#089981"/>
<rect x="424" y="243.8" width="1" height="10.7" fill="#089981"/>
<rect x="422" y="245" width="5" height="7" fill="#089981"/>
<rect x="430" y="230.0" width="1" height="17.0" fill="#089981"/>
<rect x="428" y="231" width="5" height="15" fill="#089981"/>
<rect x="436" y="220.8" width="1" height="14.0" fill="#f23645"/>
<rect x="434" y="231" width="5" height="3" fill="#f23645"/>
<rect x="442" y="230.8" width="1" height="21.3" fill="#f23645"/>
<rect x="440" y="233" width="5" height="19" fill="#f23645"/>
<rect x="448" y="227.0" width="1" height="25.1" fill="#089981"/>
<rect x="446" y="231" width="5" height="21" fill="#089981"/>
<rect x="454" y="220.8" width="1" height="10.9" fill="#089981"/>
<rect x="452" y="228" width="5" height="4" fill="#089981"/>
<rect x="460" y="226.0" width="1" height="19.9" fill="#f23645"/>
<rect x="458" y="228" width="5" height="9" fill="#f23645"/>
<rect x="466" y="232.0" width="1" height="8.8" fill="#089981"/>
<rect x="464" y="235" width="5" height="2" fill="#089981"/>
<rect x="472" y="228.8" width="1" height="15.1" fill="#089981"/>
<rect x="470" y="230" width="5" height="6" fill="#089981"/>
<rect x="478" y="227.9" width="1" height="13.0" fill="#f23645"/>
<rect x="476" y="230" width="5" height="10" fill="#f23645"/>
<rect x="484" y="236.0" width="1" height="13.8" fill="#089981"/>
<rect x="482" y="237" width="5" height="3" fill="#089981"/>
<rect x="490" y="221.8" width="1" height="16.3" fill="#089981"/>
<rect x="488" y="225" width="5" height="13" fill="#089981"/>
<rect x="496" y="200.9" width="1" height="25.1" fill="#089981"/>
<rect x="494" y="203" width="5" height="23" fill="#089981"/>
<rect x="502" y="181.0" width="1" height="24.7" fill="#089981"/>
<rect x="500" y="186" width="5" height="18" fill="#089981"/>
<rect x="508" y="178.9" width="1" height="16.1" fill="#089981"/>
<rect x="506" y="181" width="5" height="6" fill="#089981"/>
<rect x="514" y="165.1" width="1" height="16.8" fill="#089981"/>
<rect x="512" y="168" width="5" height="14" fill="#089981"/>
<rect x="520" y="161.1" width="1" height="23.9" fill="#f23645"/>
<rect x="518" y="168" width="5" height="10" fill="#f23645"/>
<rect x="526" y="172.0" width="1" height="11.8" fill="#089981"/>
<rect x="524" y="175" width="5" height="3" fill="#089981"/>
<rect x="532" y="169.9" width="1" height="15.1" fill="#f23645"/>
<rect x="530" y="175" width="5" height="7" fill="#f23645"/>
<rect x="538" y="178.9" width="1" height="19.9" fill="#f23645"/>
<rect x="536" y="181" width="5" height="11" fill="#f23645"/>
<rect x="544" y="178.1" width="1" height="29.8" fill="#f23645"/>
<rect x="542" y="191" width="5" height="10" fill="#f23645"/>
<rect x="549" y="192.8" width="1" height="9.2" fill="#089981"/>
<rect x="547" y="198" width="5" height="3" fill="#089981"/>
<rect x="555" y="178.9" width="1" height="21.1" fill="#089981"/>
<rect x="553" y="188" width="5" height="11" fill="#089981"/>
<rect x="561" y="176.0" width="1" height="26.0" fill="#f23645"/>
<rect x="559" y="188" width="5" height="13" fill="#f23645"/>
<rect x="567" y="178.1" width="1" height="29.8" fill="#089981"/>
<rect x="565" y="186" width="5" height="15" fill="#089981"/>
<rect x="573" y="185.8" width="1" height="27.2" fill="#f23645"/>
<rect x="571" y="186" width="5" height="19" fill="#f23645"/>
<rect x="579" y="198.8" width="1" height="20.2" fill="#f23645"/>
<rect x="577" y="204" width="5" height="12" fill="#f23645"/>
<rect x="585" y="200.9" width="1" height="20.9" fill="#089981"/>
<rect x="583" y="201" width="5" height="15" fill="#089981"/>
<rect x="591" y="195.0" width="1" height="11.9" fill="#f23645"/>
<rect x="589" y="201" width="5" height="6" fill="#f23645"/>
<rect x="597" y="200.0" width="1" height="13.0" fill="#089981"/>
<rect x="595" y="204" width="5" height="3" fill="#089981"/>
<rect x="603" y="186.7" width="1" height="24.2" fill="#089981"/>
<rect x="601" y="204" width="5" height="1" fill="#089981"/>
<rect x="609" y="192.8" width="1" height="19.2" fill="#f23645"/>
<rect x="607" y="204" width="5" height="2" fill="#f23645"/>
<rect x="615" y="204.0" width="1" height="19.0" fill="#f23645"/>
<rect x="613" y="205" width="5" height="10" fill="#f23645"/>
<rect x="621" y="196.7" width="1" height="28.0" fill="#f23645"/>
<rect x="619" y="214" width="5" height="11" fill="#f23645"/>
<rect x="627" y="217.9" width="1" height="33.7" fill="#f23645"/>
<rect x="625" y="224" width="5" height="23" fill="#f23645"/>
<rect x="633" y="238.1" width="1" height="21.8" fill="#f23645"/>
<rect x="631" y="246" width="5" height="6" fill="#f23645"/>
<rect x="639" y="233.9" width="1" height="19.9" fill="#089981"/>
<rect x="637" y="242" width="5" height="10" fill="#089981"/>
<rect x="645" y="232.9" width="1" height="15.2" fill="#089981"/>
<rect x="643" y="237" width="5" height="6" fill="#089981"/>
<rect x="651" y="229.9" width="1" height="16.8" fill="#f23645"/>
<rect x="649" y="237" width="5" height="4" fill="#f23645"/>
<rect x="657" y="234.6" width="1" height="15.9" fill="#f23645"/>
<rect x="655" y="240" width="5" height="3" fill="#f23645"/>
<rect x="663" y="223.3" width="1" height="22.5" fill="#089981"/>
<rect x="661" y="223" width="5" height="20" fill="#089981"/>
<rect x="669" y="216.9" width="1" height="11.9" fill="#089981"/>
<rect x="667" y="222" width="5" height="1" fill="#089981"/>
<rect x="675" y="197.0" width="1" height="27.7" fill="#089981"/>
<rect x="673" y="204" width="5" height="19" fill="#089981"/>
<rect x="681" y="191.8" width="1" height="18.2" fill="#089981"/>
<rect x="679" y="193" width="5" height="12" fill="#089981"/>
<rect x="687" y="183.0" width="1" height="29.1" fill="#f23645"/>
<rect x="685" y="193" width="5" height="16" fill="#f23645"/>
<rect x="693" y="189.1" width="1" height="24.7" fill="#089981"/>
<rect x="691" y="197" width="5" height="12" fill="#089981"/>
<rect x="699" y="174.0" width="1" height="33.7" fill="#089981"/>
<rect x="697" y="177" width="5" height="21" fill="#089981"/>
<rect x="705" y="168.0" width="1" height="34.9" fill="#f23645"/>
<rect x="703" y="177" width="5" height="16" fill="#f23645"/>
<rect x="711" y="164.0" width="1" height="29.1" fill="#089981"/>
<rect x="709" y="176" width="5" height="17" fill="#089981"/>
<rect x="717" y="171.9" width="1" height="15.1" fill="#f23645"/>
<rect x="715" y="176" width="5" height="11" fill="#f23645"/>
<rect x="723" y="175.7" width="1" height="13.3" fill="#f23645"/>
<rect x="721" y="186" width="5" height="3" fill="#f23645"/>
<rect x="729" y="187.0" width="1" height="22.0" fill="#f23645"/>
<rect x="727" y="188" width="5" height="19" fill="#f23645"/>
<rect x="735" y="200.0" width="1" height="23.0" fill="#f23645"/>
<rect x="733" y="206" width="5" height="15" fill="#f23645"/>
<rect x="741" y="206.9" width="1" height="17.8" fill="#089981"/>
<rect x="739" y="209" width="5" height="12" fill="#089981"/>
<rect x="747" y="206.0" width="1" height="20.8" fill="#f23645"/>
<rect x="745" y="209" width="5" height="18" fill="#f23645"/>
<rect x="753" y="191.8" width="1" height="35.5" fill="#089981"/>
<rect x="751" y="193" width="5" height="34" fill="#089981"/>
<rect x="759" y="193.0" width="1" height="13.8" fill="#f23645"/>
<rect x="757" y="193" width="5" height="4" fill="#f23645"/>
<rect x="765" y="182.0" width="1" height="24.0" fill="#089981"/>
<rect x="763" y="188" width="5" height="9" fill="#089981"/>
<rect x="771" y="178.9" width="1" height="33.2" fill="#f23645"/>
<rect x="769" y="188" width="5" height="22" fill="#f23645"/>
<rect x="777" y="161.9" width="1" height="51.0" fill="#089981"/>
<rect x="775" y="169" width="5" height="42" fill="#089981"/>
<rect x="783" y="152.9" width="1" height="29.1" fill="#f23645"/>
<rect x="781" y="169" width="5" height="13" fill="#f23645"/>
<rect x="789" y="166.7" width="1" height="25.1" fill="#f23645"/>
<rect x="787" y="181" width="5" height="11" fill="#f23645"/>
<rect x="795" y="187.0" width="1" height="19.0" fill="#f23645"/>
<rect x="793" y="191" width="5" height="9" fill="#f23645"/>
<rect x="801" y="195.1" width="1" height="11.8" fill="#f23645"/>
<rect x="799" y="199" width="5" height="3" fill="#f23645"/>
<rect x="807" y="191.8" width="1" height="9.9" fill="#089981"/>
<rect x="805" y="200" width="5" height="2" fill="#089981"/>
<rect x="813" y="191.8" width="1" height="20.2" fill="#f23645"/>
<rect x="811" y="200" width="5" height="9" fill="#f23645"/>
<rect x="819" y="195.1" width="1" height="13.8" fill="#089981"/>
<rect x="817" y="196" width="5" height="13" fill="#089981"/>
<rect x="825" y="184.9" width="1" height="15.1" fill="#089981"/>
<rect x="823" y="189" width="5" height="8" fill="#089981"/>
<rect x="830" y="184.9" width="1" height="13.8" fill="#f23645"/>
<rect x="828" y="189" width="5" height="4" fill="#f23645"/>
<rect x="836" y="175.7" width="1" height="18.2" fill="#089981"/>
<rect x="834" y="180" width="5" height="13" fill="#089981"/>
<rect x="842" y="175.1" width="1" height="16.8" fill="#f23645"/>
<rect x="840" y="180" width="5" height="9" fill="#f23645"/>
<rect x="848" y="175.7" width="1" height="13.0" fill="#089981"/>
<rect x="846" y="181" width="5" height="8" fill="#089981"/>
<rect x="854" y="146.9" width="1" height="34.9" fill="#089981"/>
<rect x="852" y="155" width="5" height="27" fill="#089981"/>
<rect x="860" y="125.1" width="1" height="31.7" fill="#089981"/>
<rect x="858" y="138" width="5" height="18" fill="#089981"/>
<rect x="866" y="119.0" width="1" height="23.9" fill="#089981"/>
<rect x="864" y="123" width="5" height="16" fill="#089981"/>
<rect x="872" y="110.8" width="1" height="28.0" fill="#089981"/>
<rect x="870" y="112" width="5" height="12" fill="#089981"/>
<rect x="878" y="108.9" width="1" height="19.0" fill="#f23645"/>
<rect x="876" y="112" width="5" height="13" fill="#f23645"/>
<rect x="884" y="112.9" width="1" height="19.0" fill="#f23645"/>
<rect x="882" y="124" width="5" height="7" fill="#f23645"/>
<rect x="890" y="124.1" width="1" height="11.8" fill="#f23645"/>
<rect x="888" y="130" width="5" height="6" fill="#f23645"/>
<rect x="896" y="129.0" width="1" height="16.8" fill="#089981"/>
<rect x="894" y="133" width="5" height="3" fill="#089981"/>
<rect x="902" y="129.0" width="1" height="15.9" fill="#089981"/>
<rect x="900" y="130" width="5" height="4" fill="#089981"/>
<rect x="908" y="105.1" width="1" height="28.5" fill="#089981"/>
<rect x="906" y="107" width="5" height="24" fill="#089981"/>
<rect x="914" y="95.1" width="1" height="14.9" fill="#089981"/>
<rect x="912" y="101" width="5" height="7" fill="#089981"/>
<rect x="920" y="97.0" width="1" height="26.8" fill="#f23645"/>
<rect x="918" y="101" width="5" height="18" fill="#f23645"/>
<rect x="926" y="114.9" width="1" height="18.7" fill="#f23645"/>
<rect x="924" y="118" width="5" height="14" fill="#f23645"/>
<rect x="932" y="130.2" width="1" height="25.6" fill="#f23645"/>
<rect x="930" y="131" width="5" height="24" fill="#f23645"/>
<rect x="938" y="150.9" width="1" height="36.9" fill="#f23645"/>
<rect x="936" y="154" width="5" height="26" fill="#f23645"/>
<rect x="944" y="167.9" width="1" height="30.3" fill="#f23645"/>
<rect x="942" y="179" width="5" height="19" fill="#f23645"/>
<rect x="950" y="182.9" width="1" height="23.9" fill="#089981"/>
<rect x="948" y="191" width="5" height="7" fill="#089981"/>
<rect x="956" y="188.1" width="1" height="43.8" fill="#f23645"/>
<rect x="954" y="191" width="5" height="37" fill="#f23645"/>
<rect x="962" y="191.1" width="1" height="36.9" fill="#089981"/>
<rect x="960" y="196" width="5" height="32" fill="#089981"/>
<rect x="968" y="183.8" width="1" height="24.2" fill="#089981"/>
<rect x="966" y="190" width="5" height="7" fill="#089981"/>
<rect x="974" y="179.0" width="1" height="30.8" fill="#089981"/>
<rect x="972" y="180" width="5" height="11" fill="#089981"/>
<rect x="980" y="173.9" width="1" height="20.8" fill="#f23645"/>
<rect x="978" y="180" width="5" height="8" fill="#f23645"/>
<rect x="986" y="185.0" width="1" height="19.9" fill="#f23645"/>
<rect x="984" y="187" width="5" height="7" fill="#f23645"/>
<rect x="992" y="173.9" width="1" height="24.2" fill="#089981"/>
<rect x="990" y="180" width="5" height="14" fill="#089981"/>
<rect x="998" y="154.0" width="1" height="26.8" fill="#089981"/>
<rect x="996" y="156" width="5" height="25" fill="#089981"/>
<rect x="1004" y="154.9" width="1" height="16.8" fill="#f23645"/>
<rect x="1002" y="156" width="5" height="10" fill="#f23645"/>
<rect x="1010" y="163.9" width="1" height="13.0" fill="#f23645"/>
<rect x="1008" y="165" width="5" height="3" fill="#f23645"/>
<rect x="1016" y="150.9" width="1" height="28.0" fill="#f23645"/>
<rect x="1014" y="167" width="5" height="8" fill="#f23645"/>
<rect x="1022" y="163.0" width="1" height="17.8" fill="#f23645"/>
<rect x="1020" y="173" width="5" height="8" fill="#f23645"/>
<rect x="1028" y="176.0" width="1" height="22.1" fill="#f23645"/>
<rect x="1026" y="180" width="5" height="15" fill="#f23645"/>
<rect x="1034" y="179.0" width="1" height="17.0" fill="#089981"/>
<rect x="1032" y="184" width="5" height="11" fill="#089981"/>
<rect x="1040" y="182.9" width="1" height="29.9" fill="#f23645"/>
<rect x="1038" y="184" width="5" height="19" fill="#f23645"/>
<rect x="1046" y="192.1" width="1" height="173.9" fill="#f23645"/>
<rect x="1044" y="202" width="5" height="44" fill="#f23645"/>
<rect x="1052" y="222.9" width="1" height="40.1" fill="#f23645"/>
<rect x="1050" y="245" width="5" height="7" fill="#f23645"/>
<rect x="1058" y="222.9" width="1" height="34.9" fill="#089981"/>
<rect x="1056" y="232" width="5" height="20" fill="#089981"/>
<rect x="1064" y="204.2" width="1" height="37.7" fill="#089981"/>
<rect x="1062" y="213" width="5" height="20" fill="#089981"/>
<rect x="1070" y="208.0" width="1" height="39.4" fill="#f23645"/>
<rect x="1068" y="213" width="5" height="21" fill="#f23645"/>
<rect x="1076" y="221.0" width="1" height="29.9" fill="#f23645"/>
<rect x="1074" y="233" width="5" height="16" fill="#f23645"/>
<rect x="1082" y="243.1" width="1" height="6.1" fill="#f23645"/>
<rect x="1080" y="247" width="5" height="1" fill="#f23645"/>
<line x1="783" y1="152" x2="1719" y2="152" stroke="#ff9800" stroke-width="2" stroke-dasharray="2,4"/>
<line x1="13" y1="248.5" x2="1719" y2="248.5" stroke="#f23645" stroke-width="1" stroke-dasharray="1,2"/>
<line x1="914" y1="95" x2="1719" y2="95" stroke="#2962ff" stroke-width="2" stroke-dasharray="10,12"/>
<line x1="913.5" y1="95.5" x2="1344.5" y2="95.5" stroke="#000" stroke-width="1"/>
<line x1="913.5" y1="198.5" x2="1344.5" y2="198.5" stroke="#000" stroke-width="1"/>
<line x1="913.5" y1="230.5" x2="1344.5" y2="230.5" stroke="#000" stroke-width="1"/>
<line x1="913.5" y1="366.5" x2="1344.5" y2="366.5" stroke="#000" stroke-width="1"/>
<circle cx="621.2" cy="283.4" r="0.9" fill="#4caf50"/>
<circle cx="603.2" cy="309.8" r="0.9" fill="#4caf50"/>
<circle cx="1081.4" cy="143.7" r="0.9" fill="#4caf50"/>
<path d="M1148.5,255.4 C1149.5,256.1 1152.4,258.8 1154.6,259.8 C1156.8,260.9 1158.6,261.5 1161.5,261.7 C1164.4,261.9 1168.7,261.1 1171.9,261.1 C1175.1,261.1 1178.2,261.1 1180.5,261.7 C1182.8,262.3 1183.7,263.1 1185.7,264.6 C1187.7,266.1 1190.3,268.9 1192.6,270.7 C1194.9,272.5 1197.6,274.5 1199.6,275.3 C1201.6,276.1 1202.4,275.7 1204.7,275.3 C1207.0,274.9 1210.8,273.5 1213.4,272.9 C1216.0,272.3 1218.0,271.7 1220.3,271.9 C1222.6,272.1 1224.9,272.9 1227.2,274.1 C1229.5,275.3 1232.0,277.9 1234.2,279.3 C1236.4,280.8 1237.9,282.1 1240.2,282.8 C1242.5,283.5 1245.5,283.3 1248.0,283.6 C1250.5,283.9 1252.9,283.8 1254.9,284.5 C1256.9,285.2 1258.6,286.4 1260.1,288.0 C1261.5,289.6 1262.4,292.3 1263.6,294.0 C1264.8,295.7 1266.4,297.3 1267.0,298.0" fill="none" stroke="#f23645" stroke-width="1.2"/>
</g>
<text x="1356" y="100.3" font-size="15" fill="#131722" font-weight="normal" textLength="104.5" lengthAdjust="spacingAndGlyphs" xml:space="preserve" >100.00% (59.46)</text>
<text x="1356" y="203.5" font-size="15" fill="#131722" font-weight="normal" textLength="97.2" lengthAdjust="spacingAndGlyphs" xml:space="preserve" >61.80% (44.48)</text>
<text x="1356" y="235.4" font-size="15" fill="#131722" font-weight="normal" textLength="97.2" lengthAdjust="spacingAndGlyphs" xml:space="preserve" >50.00% (39.85)</text>
<text x="1356" y="370.6" font-size="15" fill="#131722" font-weight="normal" textLength="89.2" lengthAdjust="spacingAndGlyphs" xml:space="preserve" >0.00% (20.24)</text>
<text x="1648" y="87.1" font-size="15" fill="#f23645" font-weight="bold" textLength="61.8" lengthAdjust="spacingAndGlyphs" xml:space="preserve" >New ATH</text>
<text x="1678.8" y="283.5" font-size="14.5" fill="#9c27b0" font-weight="bold" textLength="31.4" lengthAdjust="spacingAndGlyphs" xml:space="preserve" >LOW</text>
<text x="1634.1" y="319.7" font-size="14" fill="#f23645" font-weight="normal" textLength="76.1" lengthAdjust="spacingAndGlyphs" xml:space="preserve" >Weekly S/R</text>
<line x1="13" y1="436.5" x2="1801" y2="436.5" stroke="#e0e3eb" stroke-width="1"/>
<line x1="13" y1="577.5" x2="1801" y2="577.5" stroke="#e0e3eb" stroke-width="1"/>
<line x1="13" y1="646.5" x2="1801" y2="646.5" stroke="#e0e3eb" stroke-width="1"/>
<text x="1730.4" y="234.7" font-size="14" fill="#131722" font-weight="normal" textLength="36.4" lengthAdjust="spacingAndGlyphs" xml:space="preserve" >40.00</text>
<text x="1730.4" y="165.7" font-size="14" fill="#131722" font-weight="normal" textLength="36.4" lengthAdjust="spacingAndGlyphs" xml:space="preserve" >50.00</text>
<text x="1730.4" y="303.59999999999997" font-size="14" fill="#131722" font-weight="normal" textLength="36.4" lengthAdjust="spacingAndGlyphs" xml:space="preserve" >30.00</text>
<text x="1730.4" y="372.5" font-size="14" fill="#131722" font-weight="normal" textLength="36.4" lengthAdjust="spacingAndGlyphs" xml:space="preserve" >20.00</text>
<text x="1730.4" y="467.8" font-size="14" fill="#131722" font-weight="normal" textLength="36.4" lengthAdjust="spacingAndGlyphs" xml:space="preserve" >80.00</text>
<text x="1730.4" y="508.8" font-size="14" fill="#131722" font-weight="normal" textLength="36.4" lengthAdjust="spacingAndGlyphs" xml:space="preserve" >60.00</text>
<text x="1730.4" y="549.7" font-size="14" fill="#131722" font-weight="normal" textLength="36.4" lengthAdjust="spacingAndGlyphs" xml:space="preserve" >40.00</text>
<text x="1730.4" y="605.0" font-size="14" fill="#131722" font-weight="normal" textLength="20.6" lengthAdjust="spacingAndGlyphs" xml:space="preserve" >4 M</text>
<text x="1730.4" y="665.9000000000001" font-size="14" fill="#131722" font-weight="normal" textLength="28.8" lengthAdjust="spacingAndGlyphs" xml:space="preserve" >4.00</text>
<text x="1730.4" y="716.6" font-size="14" fill="#131722" font-weight="normal" textLength="28.8" lengthAdjust="spacingAndGlyphs" xml:space="preserve" >0.00</text>
<path d="M1720 85 H1771.5 Q1774 85 1774 87.5 V103.3 Q1774 105.8 1771.5 105.8 H1720 Z" fill="#2962ff"/>
<text x="1731" y="100.5" font-size="14" fill="#fff" font-weight="normal" textLength="37.0" lengthAdjust="spacingAndGlyphs" xml:space="preserve" >59.46</text>
<path d="M1720 142.1 H1771.5 Q1774 142.1 1774 144.6 V160.3 Q1774 162.8 1771.5 162.8 H1720 Z" fill="#ff9800"/>
<text x="1731" y="157.54999999999998" font-size="14" fill="#131722" font-weight="normal" textLength="37.0" lengthAdjust="spacingAndGlyphs" xml:space="preserve" >51.15</text>
<path d="M1720 183.2 H1771.5 Q1774 183.2 1774 185.7 V201.3 Q1774 203.8 1771.5 203.8 H1720 Z" fill="#ff0000"/>
<text x="1731" y="198.6" font-size="14" fill="#fff" font-weight="normal" textLength="37.0" lengthAdjust="spacingAndGlyphs" xml:space="preserve" >45.29</text>
<path d="M1720 238.2 H1792.7 Q1795.2 238.2 1795.2 240.7 V274.1 Q1795.2 276.6 1792.7 276.6 H1720 Z" fill="#f23645"/>
<text x="1731" y="253.5" font-size="14" fill="#fff" font-weight="normal" textLength="37.0" lengthAdjust="spacingAndGlyphs" xml:space="preserve" >37.34</text>
<text x="1731.8" y="271.5" font-size="14" fill="#fff" font-weight="normal" textLength="56.9" lengthAdjust="spacingAndGlyphs" xml:space="preserve" fill-opacity="0.8">19:00:55</text>
<path d="M1720 276.6 H1771.5 Q1774 276.6 1774 279.1 V294.1 Q1774 296.6 1771.5 296.6 H1720 Z" fill="#000"/>
<text x="1731" y="291.70000000000005" font-size="14" fill="#fff" font-weight="normal" textLength="37.0" lengthAdjust="spacingAndGlyphs" xml:space="preserve" >36.51</text>
<path d="M1720 298.6 H1771.5 Q1774 298.6 1774 301.1 V316.7 Q1774 319.2 1771.5 319.2 H1720 Z" fill="#9c27b0"/>
<text x="1731" y="314.0" font-size="14" fill="#fff" font-weight="normal" textLength="37.0" lengthAdjust="spacingAndGlyphs" xml:space="preserve" >30.92</text>
<path d="M1720 319.8 H1771.5 Q1774 319.8 1774 322.3 V336.9 Q1774 339.4 1771.5 339.4 H1720 Z" fill="#f23645"/>
<text x="1731" y="334.70000000000005" font-size="14" fill="#fff" font-weight="normal" textLength="37.0" lengthAdjust="spacingAndGlyphs" xml:space="preserve" >27.49</text>
<path d="M1720 518.1 H1771.5 Q1774 518.1 1774 520.6 V535.6 Q1774 538.1 1771.5 538.1 H1720 Z" fill="#fdd835"/>
<text x="1731" y="533.2" font-size="14" fill="#131722" font-weight="normal" textLength="37.0" lengthAdjust="spacingAndGlyphs" xml:space="preserve" >42.48</text>
<path d="M1720 540 H1771.5 Q1774 540 1774 542.5 V557.7 Q1774 560.2 1771.5 560.2 H1720 Z" fill="#7e57c2"/>
<text x="1731" y="555.2" font-size="14" fill="#fff" font-weight="normal" textLength="37.0" lengthAdjust="spacingAndGlyphs" xml:space="preserve" >37.35</text>
<path d="M1720 624.9 H1790.7 Q1793.2 624.9 1793.2 627.4 V643.2 Q1793.2 645.7 1790.7 645.7 H1720 Z" fill="#ef5350"/>
<text x="1731.8" y="640.4" font-size="14" fill="#fff" font-weight="normal" textLength="55.9" lengthAdjust="spacingAndGlyphs" xml:space="preserve" >125.26K</text>
<path d="M1720 711.3 H1771.5 Q1774 711.3 1774 713.8 V729.2 Q1774 731.7 1771.5 731.7 H1720 Z" fill="#ffcdd2"/>
<text x="1731.8" y="726.6" font-size="14" fill="#131722" font-weight="normal" textLength="36.6" lengthAdjust="spacingAndGlyphs" xml:space="preserve" >−0.75</text>
<path d="M1720 731.7 H1771.5 Q1774 731.7 1774 734.2 V751.1 Q1774 753.6 1771.5 753.6 H1720 Z" fill="#ff6d00"/>
<text x="1731.8" y="747.7500000000001" font-size="14" fill="#fff" font-weight="normal" textLength="36.6" lengthAdjust="spacingAndGlyphs" xml:space="preserve" >−2.03</text>
<rect x="1720" y="753.6" width="54" height="3.3" fill="#2962ff"/>
<rect x="1724.4" y="39.1" width="72.4" height="31.7" rx="5" fill="#fff" stroke="#f3f3f4" stroke-width="2"/>
<text x="1735.7" y="60" font-size="14" fill="#131722" font-weight="normal" textLength="34.3" lengthAdjust="spacingAndGlyphs" xml:space="preserve" >USDT</text>
<text x="64.3" y="779.8" font-size="14.4" fill="#131722" font-weight="normal" textLength="25.6" lengthAdjust="spacingAndGlyphs" xml:space="preserve" >May</text>
<text x="251.3" y="779.8" font-size="14.4" fill="#131722" font-weight="normal" textLength="22.4" lengthAdjust="spacingAndGlyphs" xml:space="preserve" >Jun</text>
<text x="432.5" y="779.8" font-size="14.4" fill="#131722" font-weight="normal" textLength="19.4" lengthAdjust="spacingAndGlyphs" xml:space="preserve" >Jul</text>
<text x="615.2" y="779.8" font-size="14.4" fill="#131722" font-weight="normal" textLength="24.8" lengthAdjust="spacingAndGlyphs" xml:space="preserve" >Aug</text>
<text x="800.5" y="779.8" font-size="14.4" fill="#131722" font-weight="normal" textLength="24.0" lengthAdjust="spacingAndGlyphs" xml:space="preserve" >Sep</text>
<text x="980.5" y="779.8" font-size="14.4" fill="#131722" font-weight="normal" textLength="23.6" lengthAdjust="spacingAndGlyphs" xml:space="preserve" >Oct</text>
<text x="1165.3" y="779.8" font-size="14.4" fill="#131722" font-weight="normal" textLength="24.7" lengthAdjust="spacingAndGlyphs" xml:space="preserve" >Nov</text>
<text x="1344.5" y="779.8" font-size="14.4" fill="#131722" font-weight="normal" textLength="24.4" lengthAdjust="spacingAndGlyphs" xml:space="preserve" >Dec</text>
<text x="1525.2" y="779.8" font-size="14.4" fill="#131722" font-weight="bold" textLength="34.2" lengthAdjust="spacingAndGlyphs" xml:space="preserve" >2026</text>
<rect x="13" y="34" width="1788" height="758" fill="none" stroke="#f4f4f5" stroke-width="2"/>
<text x="12.3" y="24.7" font-size="14.5" fill="#1c1c1f" font-weight="normal" textLength="72.9" lengthAdjust="spacingAndGlyphs" xml:space="preserve" >M_MTrades</text>
<text x="90.1" y="24.7" font-size="14.5" fill="#1c1c1f" font-weight="normal" textLength="51.3" lengthAdjust="spacingAndGlyphs" xml:space="preserve" >created</text>
<text x="146.8" y="24.7" font-size="14.5" fill="#1c1c1f" font-weight="normal" textLength="28.5" lengthAdjust="spacingAndGlyphs" xml:space="preserve" >with</text>
<text x="181" y="24.7" font-size="14.5" fill="#1c1c1f" font-weight="normal" textLength="116.2" lengthAdjust="spacingAndGlyphs" xml:space="preserve" >TradingView.com,</text>
<text x="303.8" y="24.7" font-size="14.5" fill="#1c1c1f" font-weight="normal" textLength="22.5" lengthAdjust="spacingAndGlyphs" xml:space="preserve" >Oct</text>
<text x="333.6" y="24.7" font-size="14.5" fill="#1c1c1f" font-weight="normal" textLength="17.2" lengthAdjust="spacingAndGlyphs" xml:space="preserve" >16,</text>
<text x="358.1" y="24.7" font-size="14.5" fill="#1c1c1f" font-weight="normal" textLength="29.7" lengthAdjust="spacingAndGlyphs" xml:space="preserve" >2025</text>
<text x="395.1" y="24.7" font-size="14.5" fill="#1c1c1f" font-weight="normal" textLength="34.4" lengthAdjust="spacingAndGlyphs" xml:space="preserve" >10:29</text>
<text x="435.5" y="24.7" font-size="14.5" fill="#1c1c1f" font-weight="normal" textLength="63.5" lengthAdjust="spacingAndGlyphs" xml:space="preserve" >UTC+5:30</text>
<text x="23.2" y="58.8" font-size="14.5" fill="#131722" font-weight="normal" textLength="67.8" lengthAdjust="spacingAndGlyphs" xml:space="preserve" >HYPEUSDT</text>
<text x="97.6" y="58.8" font-size="14.5" fill="#131722" font-weight="normal" textLength="33.0" lengthAdjust="spacingAndGlyphs" xml:space="preserve" >SPOT</text>
<text x="146.4" y="58.8" font-size="14.5" fill="#131722" font-weight="normal" textLength="16.5" lengthAdjust="spacingAndGlyphs" xml:space="preserve" >1D</text>
<text x="178.3" y="58.8" font-size="14.5" fill="#131722" font-weight="normal" textLength="39.2" lengthAdjust="spacingAndGlyphs" xml:space="preserve" >Bitget</text>
<text x="138" y="58.8" font-size="14" fill="#131722" text-anchor="middle" font-weight="normal" >·</text>
<text x="170.3" y="58.8" font-size="14" fill="#131722" text-anchor="middle" font-weight="normal" >·</text>
<text x="227.2" y="58.8" font-size="14" fill="#131722" font-weight="normal" textLength="9.9" lengthAdjust="spacingAndGlyphs" xml:space="preserve" >O</text>
<text x="238.1" y="58.8" font-size="14" fill="#f23645" font-weight="normal" textLength="35.3" lengthAdjust="spacingAndGlyphs" xml:space="preserve" >37.41</text>
<text x="283.7" y="58.8" font-size="14" fill="#131722" font-weight="normal" textLength="9.0" lengthAdjust="spacingAndGlyphs" xml:space="preserve" >H</text>
<text x="293.7" y="58.8" font-size="14" fill="#f23645" font-weight="normal" textLength="36.3" lengthAdjust="spacingAndGlyphs" xml:space="preserve" >38.09</text>
<text x="339.9" y="58.8" font-size="14" fill="#131722" font-weight="normal" textLength="5.9" lengthAdjust="spacingAndGlyphs" xml:space="preserve" >L</text>
<text x="346.8" y="58.8" font-size="14" fill="#f23645" font-weight="normal" textLength="35.7" lengthAdjust="spacingAndGlyphs" xml:space="preserve" >37.15</text>
<text x="392.9" y="58.8" font-size="14" fill="#131722" font-weight="normal" textLength="8.5" lengthAdjust="spacingAndGlyphs" xml:space="preserve" >C</text>
<text x="402" y="58.8" font-size="14" fill="#f23645" font-weight="normal" textLength="36.1" lengthAdjust="spacingAndGlyphs" xml:space="preserve" >37.34</text>
<text x="448.4" y="58.8" font-size="14" fill="#f23645" font-weight="normal" textLength="96.8" lengthAdjust="spacingAndGlyphs" xml:space="preserve" >−0.07 (−0.19%)</text>
<g fill="#101010">
<path d="M15.5 819.7 H30.4 V837.8 H23.1 V826.9 H15.5 Z"/>
<circle cx="36.85" cy="823" r="3.75"/>
<path d="M44.5 819.7 H52.7 L45.7 837.8 H37.3 Z"/>
</g>
<text x="61.6" y="837.8" font-size="25.4" fill="#101010" font-weight="bold" textLength="151.6" lengthAdjust="spacingAndGlyphs" xml:space="preserve" >TradingView</text>
</g>
</svg>
</body></html>
